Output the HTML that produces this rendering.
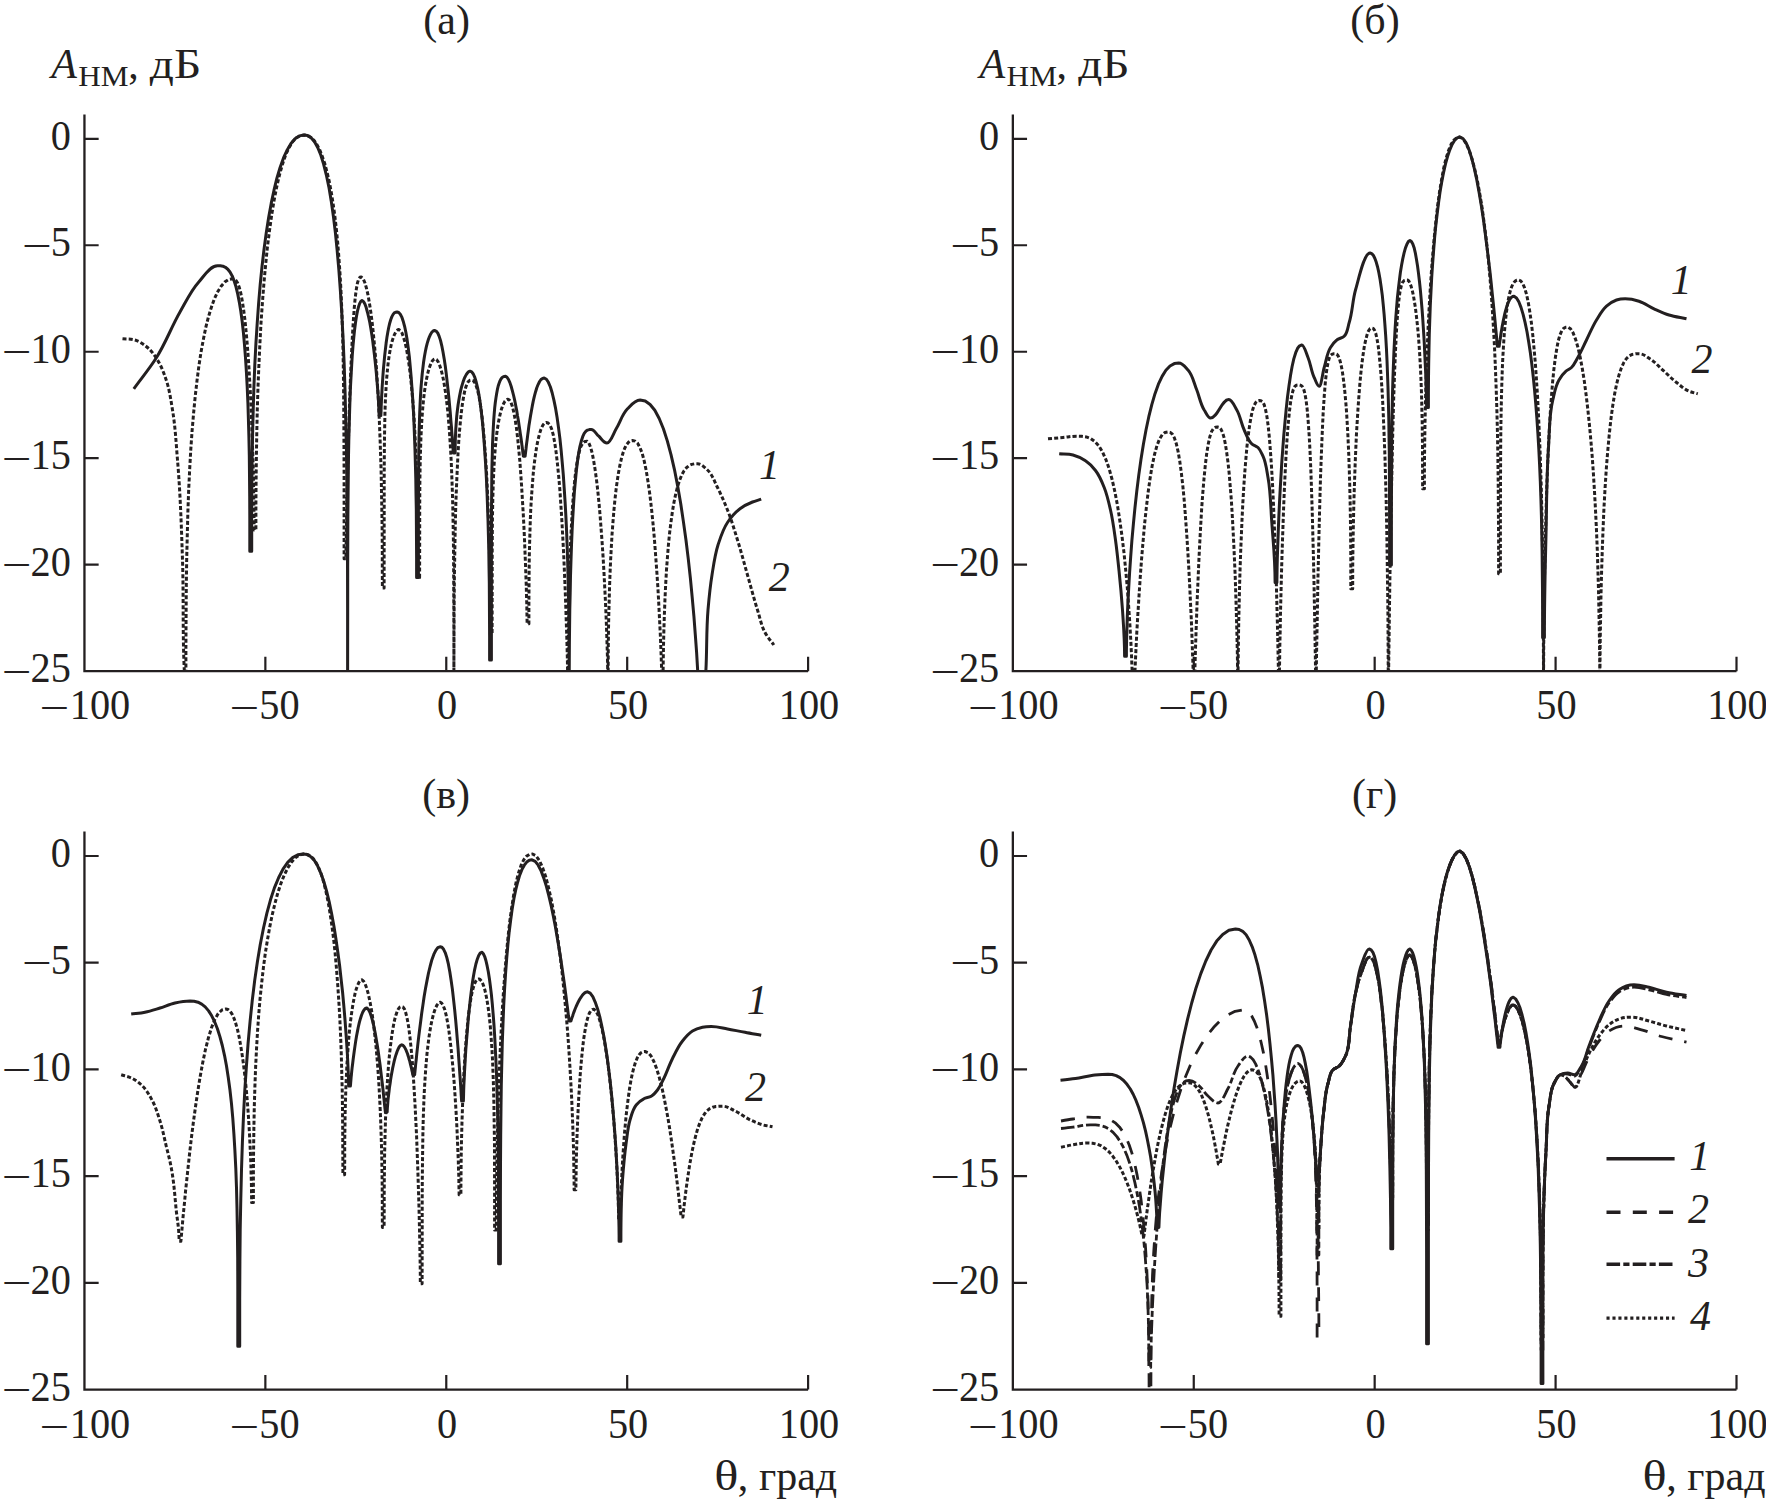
<!DOCTYPE html>
<html><head><meta charset="utf-8"><title>figure</title>
<style>html,body{margin:0;padding:0;background:#fff}svg{display:block}text{font-family:"Liberation Serif", "DejaVu Serif", serif;font-size:42px;fill:#231f20}</style>
</head><body>
<svg width="1766" height="1502" viewBox="0 0 1766 1502">
<rect width="1766" height="1502" fill="#fff"/>
<path d="M84.45 114.4V671.15H808.1" fill="none" stroke="#231f20" stroke-width="2.3" stroke-linejoin="miter"/>
<path d="M84.45 138.80h14.2M84.45 245.27h14.2M84.45 351.74h14.2M84.45 458.21h14.2M84.45 564.68h14.2M265.36 671.15v-14.5M446.27 671.15v-14.5M627.19 671.15v-14.5M808.10 671.15v-14.5" fill="none" stroke="#231f20" stroke-width="2.2"/>
<text transform="translate(70.85 150.00) scale(0.96 1)" text-anchor="end">0</text>
<text transform="translate(70.85 256.47) scale(0.96 1)" text-anchor="end">5</text>
<text transform="translate(21.95 259.67) scale(1.258 1)">−</text>
<text transform="translate(70.85 362.94) scale(0.96 1)" text-anchor="end">10</text>
<text transform="translate(1.79 366.14) scale(1.258 1)">−</text>
<text transform="translate(70.85 469.41) scale(0.96 1)" text-anchor="end">15</text>
<text transform="translate(1.79 472.61) scale(1.258 1)">−</text>
<text transform="translate(70.85 575.88) scale(0.96 1)" text-anchor="end">20</text>
<text transform="translate(1.79 579.08) scale(1.258 1)">−</text>
<text transform="translate(70.85 682.35) scale(0.96 1)" text-anchor="end">25</text>
<text transform="translate(1.79 685.55) scale(1.258 1)">−</text>
<text transform="translate(39.61 722.25) scale(1.258 1)">−</text>
<text transform="translate(69.80 719.05) scale(0.96 1)">100</text>
<text transform="translate(229.62 722.25) scale(1.258 1)">−</text>
<text transform="translate(259.36 719.05) scale(0.96 1)">50</text>
<text transform="translate(447.17 719.05) scale(0.96 1)" text-anchor="middle">0</text>
<text transform="translate(628.09 719.05) scale(0.96 1)" text-anchor="middle">50</text>
<text transform="translate(809.00 719.05) scale(0.96 1)" text-anchor="middle">100</text>
<path d="M1012.85 114.4V671.15H1736.5" fill="none" stroke="#231f20" stroke-width="2.3" stroke-linejoin="miter"/>
<path d="M1012.85 138.80h14.2M1012.85 245.27h14.2M1012.85 351.74h14.2M1012.85 458.21h14.2M1012.85 564.68h14.2M1193.76 671.15v-14.5M1374.67 671.15v-14.5M1555.59 671.15v-14.5M1736.50 671.15v-14.5" fill="none" stroke="#231f20" stroke-width="2.2"/>
<text transform="translate(999.25 150.00) scale(0.96 1)" text-anchor="end">0</text>
<text transform="translate(999.25 256.47) scale(0.96 1)" text-anchor="end">5</text>
<text transform="translate(950.35 259.67) scale(1.258 1)">−</text>
<text transform="translate(999.25 362.94) scale(0.96 1)" text-anchor="end">10</text>
<text transform="translate(930.19 366.14) scale(1.258 1)">−</text>
<text transform="translate(999.25 469.41) scale(0.96 1)" text-anchor="end">15</text>
<text transform="translate(930.19 472.61) scale(1.258 1)">−</text>
<text transform="translate(999.25 575.88) scale(0.96 1)" text-anchor="end">20</text>
<text transform="translate(930.19 579.08) scale(1.258 1)">−</text>
<text transform="translate(999.25 682.35) scale(0.96 1)" text-anchor="end">25</text>
<text transform="translate(930.19 685.55) scale(1.258 1)">−</text>
<text transform="translate(968.01 722.25) scale(1.258 1)">−</text>
<text transform="translate(998.20 719.05) scale(0.96 1)">100</text>
<text transform="translate(1158.02 722.25) scale(1.258 1)">−</text>
<text transform="translate(1187.76 719.05) scale(0.96 1)">50</text>
<text transform="translate(1375.58 719.05) scale(0.96 1)" text-anchor="middle">0</text>
<text transform="translate(1556.49 719.05) scale(0.96 1)" text-anchor="middle">50</text>
<text transform="translate(1737.40 719.05) scale(0.96 1)" text-anchor="middle">100</text>
<path d="M84.45 831.6V1389.6H808.1" fill="none" stroke="#231f20" stroke-width="2.3" stroke-linejoin="miter"/>
<path d="M84.45 856.00h14.2M84.45 962.72h14.2M84.45 1069.44h14.2M84.45 1176.16h14.2M84.45 1282.88h14.2M265.36 1389.6v-14.5M446.27 1389.6v-14.5M627.19 1389.6v-14.5M808.10 1389.6v-14.5" fill="none" stroke="#231f20" stroke-width="2.2"/>
<text transform="translate(70.85 867.20) scale(0.96 1)" text-anchor="end">0</text>
<text transform="translate(70.85 973.92) scale(0.96 1)" text-anchor="end">5</text>
<text transform="translate(21.95 977.12) scale(1.258 1)">−</text>
<text transform="translate(70.85 1080.64) scale(0.96 1)" text-anchor="end">10</text>
<text transform="translate(1.79 1083.84) scale(1.258 1)">−</text>
<text transform="translate(70.85 1187.36) scale(0.96 1)" text-anchor="end">15</text>
<text transform="translate(1.79 1190.56) scale(1.258 1)">−</text>
<text transform="translate(70.85 1294.08) scale(0.96 1)" text-anchor="end">20</text>
<text transform="translate(1.79 1297.28) scale(1.258 1)">−</text>
<text transform="translate(70.85 1400.80) scale(0.96 1)" text-anchor="end">25</text>
<text transform="translate(1.79 1404.00) scale(1.258 1)">−</text>
<text transform="translate(39.61 1440.70) scale(1.258 1)">−</text>
<text transform="translate(69.80 1437.50) scale(0.96 1)">100</text>
<text transform="translate(229.62 1440.70) scale(1.258 1)">−</text>
<text transform="translate(259.36 1437.50) scale(0.96 1)">50</text>
<text transform="translate(447.17 1437.50) scale(0.96 1)" text-anchor="middle">0</text>
<text transform="translate(628.09 1437.50) scale(0.96 1)" text-anchor="middle">50</text>
<text transform="translate(809.00 1437.50) scale(0.96 1)" text-anchor="middle">100</text>
<path d="M1012.85 831.6V1389.6H1736.5" fill="none" stroke="#231f20" stroke-width="2.3" stroke-linejoin="miter"/>
<path d="M1012.85 856.00h14.2M1012.85 962.72h14.2M1012.85 1069.44h14.2M1012.85 1176.16h14.2M1012.85 1282.88h14.2M1193.76 1389.6v-14.5M1374.67 1389.6v-14.5M1555.59 1389.6v-14.5M1736.50 1389.6v-14.5" fill="none" stroke="#231f20" stroke-width="2.2"/>
<text transform="translate(999.25 867.20) scale(0.96 1)" text-anchor="end">0</text>
<text transform="translate(999.25 973.92) scale(0.96 1)" text-anchor="end">5</text>
<text transform="translate(950.35 977.12) scale(1.258 1)">−</text>
<text transform="translate(999.25 1080.64) scale(0.96 1)" text-anchor="end">10</text>
<text transform="translate(930.19 1083.84) scale(1.258 1)">−</text>
<text transform="translate(999.25 1187.36) scale(0.96 1)" text-anchor="end">15</text>
<text transform="translate(930.19 1190.56) scale(1.258 1)">−</text>
<text transform="translate(999.25 1294.08) scale(0.96 1)" text-anchor="end">20</text>
<text transform="translate(930.19 1297.28) scale(1.258 1)">−</text>
<text transform="translate(999.25 1400.80) scale(0.96 1)" text-anchor="end">25</text>
<text transform="translate(930.19 1404.00) scale(1.258 1)">−</text>
<text transform="translate(968.01 1440.70) scale(1.258 1)">−</text>
<text transform="translate(998.20 1437.50) scale(0.96 1)">100</text>
<text transform="translate(1158.02 1440.70) scale(1.258 1)">−</text>
<text transform="translate(1187.76 1437.50) scale(0.96 1)">50</text>
<text transform="translate(1375.58 1437.50) scale(0.96 1)" text-anchor="middle">0</text>
<text transform="translate(1556.49 1437.50) scale(0.96 1)" text-anchor="middle">50</text>
<text transform="translate(1737.40 1437.50) scale(0.96 1)" text-anchor="middle">100</text>
<text transform="translate(446.60 34.10) scale(1.0 1)" text-anchor="middle">(а)</text>
<text transform="translate(1375.00 34.10) scale(1.0 1)" text-anchor="middle">(б)</text>
<text transform="translate(446.20 807.90) scale(1.0 1)" text-anchor="middle">(в)</text>
<text transform="translate(1374.60 807.90) scale(1.0 1)" text-anchor="middle">(г)</text>
<text transform="translate(51.2 77.5)" font-style="italic">A</text>
<text transform="translate(78.2 86.2) scale(1.06 1)" style="font-size:29.5px">НМ</text>
<text transform="translate(128.2 77.5)">,</text>
<text transform="translate(149.8 77.5) scale(1.13 1)">дБ</text>
<text transform="translate(979.6 77.5)" font-style="italic">A</text>
<text transform="translate(1006.6 86.2) scale(1.06 1)" style="font-size:29.5px">НМ</text>
<text transform="translate(1056.6 77.5)">,</text>
<text transform="translate(1078.2 77.5) scale(1.13 1)">дБ</text>
<text transform="translate(714.20 1489.8) scale(1.2 1)">θ</text>
<text transform="translate(737.80 1489.80) scale(1.0 1)">,</text>
<text transform="translate(837.20 1489.80) scale(1.0 1)" text-anchor="end">град</text>
<text transform="translate(1642.60 1489.8) scale(1.2 1)">θ</text>
<text transform="translate(1666.20 1489.80) scale(1.0 1)">,</text>
<text transform="translate(1765.60 1489.80) scale(1.0 1)" text-anchor="end">град</text>
<text transform="translate(759.00 478.75)" font-style="italic">1</text>
<text transform="translate(768.75 591.00)" font-style="italic">2</text>
<text transform="translate(1670.75 293.75)" font-style="italic">1</text>
<text transform="translate(1691.50 372.50)" font-style="italic">2</text>
<text transform="translate(746.75 1013.50)" font-style="italic">1</text>
<text transform="translate(745.00 1101.00)" font-style="italic">2</text>
<clipPath id="clip0"><rect x="86" y="100" width="744" height="570.1"/></clipPath>
<g clip-path="url(#clip0)" fill="none" stroke="#231f20" stroke-linejoin="round">
<path d="M122.5 338.8C126.7 339.2 131.1 338.8 135.0 340.0C139.5 341.4 143.9 344.4 147.5 347.5C151.5 350.9 154.7 355.5 157.5 360.0C161.3 366.1 163.9 373.1 166.2 380.0C169.5 389.6 170.8 399.9 172.5 410.0C175.3 426.5 176.1 443.3 177.5 460.0C180.3 493.2 181.4 526.6 182.5 560.0C183.7 596.7 182.5 633.6 184.3 670.3C184.8 679.6 185.9 687.1 185.9 698.3L185.9 647.6L186.1 614.1L186.3 585.0L186.7 558.6L187.3 534.1L187.9 511.1L188.7 489.4L189.7 468.9L190.8 449.3L192.1 430.7L193.6 413.1L195.2 396.5L197.0 380.7L198.9 365.9L201.0 352.1L203.4 339.2L205.8 327.4L208.5 316.7L211.4 307.2L214.4 298.8L217.7 291.8L221.1 286.2L224.7 282.1L228.5 279.6L232.5 278.8L234.4 279.1L236.1 280.6L237.8 283.4L239.4 287.8L240.9 293.7L242.3 301.1L243.6 309.7L244.9 319.6L246.0 330.6L247.1 342.6L248.1 355.3L249.0 368.7L249.8 382.7L250.6 397.0L251.2 411.5L251.8 426.1L252.3 440.6L252.8 454.8L253.2 468.7L253.5 481.9L253.7 494.4L253.9 506.0L254.0 516.2L254.1 524.7L254.1 530.0L255.9 530.0L255.9 503.9L256.1 479.4L256.4 455.5L256.8 432.2L257.3 409.3L258.0 386.9L258.9 365.0L259.9 343.6L261.0 322.9L262.4 302.8L263.9 283.5L265.6 264.9L267.4 247.2L269.5 230.5L271.7 214.8L274.1 200.2L276.7 186.9L279.5 174.8L282.5 164.2L285.6 155.1L289.0 147.6L292.6 141.8L296.4 137.8L300.3 135.6L304.5 135.0L307.9 135.6L311.1 137.5L314.2 140.6L317.1 144.9L319.9 150.3L322.4 156.7L324.9 164.1L327.1 172.4L329.3 181.7L331.2 191.9L333.0 202.9L334.7 214.9L336.2 227.7L337.6 241.5L338.8 256.4L339.9 272.2L340.9 289.3L341.7 307.6L342.4 327.5L343.0 349.1L343.4 373.0L343.7 400.0L343.9 431.7L344.1 471.9L344.1 558.8L345.9 558.8L345.9 557.6L346.0 554.3L346.0 548.8L346.2 541.2L346.3 531.6L346.6 520.0L346.8 506.8L347.2 492.0L347.5 475.9L347.9 458.7L348.4 440.7L349.0 422.3L349.5 403.6L350.2 385.2L350.9 367.2L351.7 350.2L352.5 334.3L353.4 319.9L354.3 307.4L355.3 296.9L356.4 288.7L357.5 282.8L358.7 279.1L359.9 277.3L361.2 277.0L363.1 278.6L364.8 282.5L366.4 288.0L368.0 294.9L369.4 303.0L370.8 312.1L372.1 322.1L373.3 332.9L374.4 344.4L375.5 356.5L376.5 369.2L377.3 382.4L378.2 396.2L378.9 410.3L379.5 424.8L380.1 439.7L380.6 454.9L381.1 470.4L381.4 486.2L381.7 502.3L382.0 518.6L382.2 535.2L382.3 552.2L382.3 569.5L382.4 588.0L384.1 588.0L384.2 502.0L384.2 476.7L384.3 458.6L384.4 444.0L384.6 431.6L384.8 420.8L385.0 411.1L385.3 402.3L385.7 394.3L386.1 387.0L386.5 380.2L387.1 373.9L387.6 368.0L388.2 362.6L388.9 357.6L389.6 353.0L390.4 348.7L391.2 344.8L392.1 341.3L393.1 338.1L394.1 335.4L395.2 333.1L396.3 331.3L397.5 330.0L398.8 329.5L400.4 330.5L402.0 333.0L403.4 336.8L404.8 341.7L406.2 347.5L407.4 354.2L408.6 361.6L409.7 369.7L410.7 378.4L411.6 387.7L412.5 397.5L413.3 407.8L414.1 418.5L414.7 429.7L415.3 441.2L415.8 453.0L416.3 465.2L416.7 477.8L417.0 490.6L417.3 503.8L417.5 517.3L417.7 531.2L417.8 545.5L417.8 560.6L417.9 577.5L419.6 577.5L419.7 529.2L419.7 508.6L419.8 492.8L419.9 479.5L420.1 467.7L420.3 457.2L420.6 447.5L420.9 438.6L421.3 430.3L421.7 422.6L422.2 415.3L422.7 408.6L423.3 402.2L423.9 396.3L424.6 390.7L425.4 385.5L426.2 380.7L427.1 376.3L428.0 372.3L429.0 368.7L430.1 365.6L431.2 362.9L432.4 360.8L433.7 359.4L435.0 358.8L436.6 359.6L438.2 361.8L439.6 365.1L441.0 369.4L442.3 374.5L443.6 380.5L444.7 387.2L445.8 394.6L446.8 402.8L447.8 411.5L448.6 421.0L449.4 431.1L450.1 441.9L450.8 453.4L451.4 465.6L451.9 478.6L452.4 492.5L452.8 507.3L453.1 523.2L453.4 540.5L453.6 559.4L453.7 580.6L453.8 605.2L453.9 635.9L453.9 698.3L453.9 663.6L454.0 638.5L454.1 616.2L454.2 595.7L454.4 576.3L454.7 558.0L455.0 540.7L455.3 524.2L455.7 508.5L456.2 493.6L456.8 479.5L457.4 466.2L458.0 453.8L458.7 442.1L459.5 431.4L460.4 421.6L461.3 412.7L462.3 404.8L463.4 397.9L464.5 392.1L465.7 387.5L467.0 383.9L468.3 381.6L469.8 380.3L471.2 380.0L472.9 380.5L474.5 382.1L475.9 385.1L477.3 389.4L478.7 394.9L479.9 401.6L481.1 409.3L482.2 418.1L483.2 427.8L484.1 438.3L485.0 449.5L485.8 461.4L486.6 473.8L487.2 486.7L487.8 500.0L488.3 513.6L488.8 527.5L489.2 541.5L489.5 555.7L489.8 569.8L490.0 583.8L490.2 597.6L490.3 611.0L490.3 623.8L490.4 635.0L492.1 635.0L492.2 575.8L492.2 553.1L492.3 536.1L492.4 521.9L492.6 509.5L492.8 498.5L493.1 488.5L493.4 479.4L493.8 470.9L494.2 463.1L494.7 455.7L495.2 448.9L495.8 442.5L496.4 436.5L497.1 431.0L497.9 425.8L498.7 421.0L499.6 416.6L500.5 412.7L501.5 409.1L502.6 406.0L503.7 403.4L504.9 401.3L506.2 399.9L507.5 399.2L509.2 399.9L510.8 402.1L512.3 406.1L513.7 411.8L515.1 419.1L516.4 427.8L517.6 437.7L518.7 448.8L519.8 460.6L520.7 473.1L521.6 486.2L522.4 499.5L523.2 512.9L523.9 526.2L524.5 539.4L525.0 552.1L525.5 564.3L525.9 575.8L526.3 586.5L526.5 596.2L526.8 604.8L526.9 612.0L527.0 617.8L527.1 621.9L527.1 623.8L528.9 623.8L528.9 603.2L529.0 588.3L529.1 575.1L529.2 562.9L529.4 551.3L529.7 540.4L530.0 530.0L530.3 520.0L530.7 510.5L531.2 501.3L531.8 492.6L532.4 484.3L533.0 476.3L533.7 468.8L534.5 461.8L535.4 455.2L536.3 449.1L537.3 443.4L538.4 438.4L539.5 433.9L540.7 430.0L542.0 426.9L543.3 424.5L544.8 423.0L546.2 422.5L548.1 423.0L549.9 424.9L551.6 428.8L553.2 434.6L554.7 442.5L556.1 452.1L557.4 463.5L558.7 476.3L559.9 490.3L560.9 505.4L561.9 521.3L562.8 537.7L563.7 554.4L564.4 571.1L565.1 587.7L565.7 603.9L566.2 619.5L566.7 634.3L567.1 648.0L567.4 660.5L567.6 671.6L567.8 681.1L567.9 688.6L568.0 693.9L568.0 696.3L568.0 680.3L568.1 664.3L568.2 648.4L568.3 632.6L568.6 617.1L568.8 601.8L569.2 586.8L569.5 572.1L570.0 558.0L570.5 544.3L571.1 531.2L571.8 518.8L572.5 507.1L573.3 496.1L574.2 486.0L575.1 476.8L576.1 468.6L577.2 461.5L578.4 455.4L579.6 450.4L580.9 446.6L582.3 443.9L583.8 442.2L585.4 441.4L587.0 441.2L588.8 442.9L590.5 447.0L592.2 453.2L593.7 461.0L595.2 470.2L596.6 480.6L597.9 492.0L599.1 504.1L600.2 516.9L601.2 530.1L602.2 543.6L603.1 557.3L603.9 571.1L604.6 584.8L605.3 598.4L605.9 611.7L606.4 624.5L606.8 636.9L607.2 648.7L607.5 659.7L607.7 669.8L607.9 678.9L608.0 686.7L608.1 692.8L608.1 696.3L608.1 677.4L608.2 660.6L608.3 644.6L608.5 629.2L608.8 614.2L609.2 599.6L609.6 585.5L610.1 571.8L610.7 558.5L611.4 545.7L612.1 533.5L613.0 521.7L613.9 510.6L614.9 500.1L616.0 490.2L617.2 481.1L618.5 472.8L619.9 465.3L621.4 458.7L623.0 453.0L624.7 448.3L626.5 444.8L628.4 442.3L630.4 440.9L632.5 440.5L635.1 441.1L637.6 443.2L639.9 447.4L642.2 453.4L644.3 461.4L646.3 471.0L648.1 482.3L649.9 494.9L651.5 508.7L653.0 523.4L654.4 538.9L655.6 555.0L656.8 571.3L657.9 587.9L658.8 604.3L659.6 620.5L660.4 636.2L661.0 651.3L661.5 665.6L662.0 678.8L662.3 690.8L662.6 701.2L662.7 710.0L662.8 716.5L662.9 719.8L662.9 698.9L663.0 680.5L663.2 662.9L663.5 645.9L663.9 629.6L664.4 613.8L665.0 598.6L665.7 583.9L666.5 569.9L667.5 556.6L668.5 544.0L669.7 532.1L671.1 521.1L672.5 511.0L674.1 501.7L675.8 493.5L677.7 486.2L679.7 480.0L681.8 474.8L684.1 470.7L686.5 467.7L689.0 465.6L691.7 464.4L694.5 463.8L697.5 463.8C701.5 463.8 704.6 467.4 707.5 470.0C712.2 474.3 714.4 481.5 717.5 487.5C721.2 494.8 724.5 502.4 727.5 510.0C731.4 519.8 734.4 529.9 737.5 540.0C741.1 551.6 744.2 563.3 747.5 575.0C750.8 586.7 753.9 598.4 757.5 610.0C759.9 617.5 761.3 625.7 765.0 632.5C767.4 636.9 770.8 640.8 773.8 645.0" stroke-width="3.0" stroke-dasharray="4 2.2"/>
<path d="M133.8 388.8C141.2 378.5 149.5 368.7 156.2 358.0C165.5 343.5 171.4 326.9 180.0 312.0C185.9 301.8 191.0 290.6 198.8 282.0C204.2 275.9 210.0 265.8 217.5 265.8L220.3 265.8L222.9 266.2L225.4 267.3L227.8 269.2L230.0 272.0L232.2 275.9L234.1 280.8L236.0 286.8L237.7 293.9L239.3 302.1L240.8 311.3L242.2 321.5L243.4 332.7L244.5 344.9L245.5 358.0L246.4 372.0L247.2 386.9L247.9 402.7L248.4 419.3L248.9 436.9L249.3 455.5L249.5 475.3L249.7 496.6L249.8 520.1L249.8 551.2L251.7 551.2L251.7 514.9L251.9 486.0L252.1 459.4L252.6 434.2L253.2 410.3L253.9 387.3L254.8 365.1L255.9 343.8L257.2 323.3L258.6 303.6L260.2 284.6L262.0 266.6L264.0 249.4L266.2 233.1L268.6 217.8L271.2 203.4L274.0 190.2L276.9 178.2L280.1 167.4L283.5 157.9L287.2 149.9L291.0 143.5L295.0 138.8L299.3 135.9L303.8 135.0L307.5 135.6L311.1 137.8L314.5 141.8L317.7 147.5L320.8 155.0L323.6 164.1L326.3 174.8L328.9 187.1L331.2 200.9L333.4 216.2L335.4 232.8L337.2 250.9L338.9 270.4L340.4 291.2L341.8 313.4L343.0 337.1L344.1 362.4L345.0 389.2L345.7 417.9L346.4 448.7L346.9 481.9L347.2 518.5L347.5 559.6L347.6 608.8L347.6 692.8L347.7 605.1L347.7 567.8L347.8 539.0L347.9 514.8L348.1 493.5L348.3 474.3L348.5 456.9L348.8 440.8L349.2 425.8L349.6 411.9L350.0 398.9L350.5 386.7L351.1 375.4L351.7 364.8L352.3 354.9L353.0 345.8L353.8 337.4L354.6 329.7L355.5 322.8L356.4 316.7L357.4 311.4L358.5 307.0L359.6 303.6L360.8 301.4L362.0 300.5L363.5 301.6L364.9 304.1L366.2 307.6L367.4 312.0L368.6 317.0L369.8 322.4L370.8 328.3L371.8 334.5L372.7 340.8L373.5 347.3L374.3 353.8L375.0 360.2L375.7 366.6L376.3 372.8L376.8 378.8L377.3 384.5L377.7 389.9L378.1 394.9L378.4 399.6L378.6 403.7L378.8 407.4L378.9 410.5L379.0 413.0L379.1 414.7L379.1 415.5L380.9 415.5L380.9 414.6L381.0 412.6L381.1 409.7L381.2 406.2L381.4 402.0L381.6 397.3L381.9 392.1L382.2 386.5L382.6 380.6L383.0 374.5L383.5 368.2L384.1 361.8L384.7 355.5L385.4 349.3L386.1 343.3L386.9 337.6L387.8 332.3L388.7 327.5L389.7 323.2L390.8 319.5L391.9 316.6L393.1 314.4L394.3 312.9L395.6 312.2L397.0 312.0L398.7 312.5L400.3 314.2L401.8 317.1L403.2 321.2L404.6 326.3L405.9 332.5L407.1 339.6L408.2 347.6L409.3 356.5L410.2 366.1L411.1 376.4L411.9 387.3L412.7 398.9L413.4 411.0L414.0 423.7L414.5 436.8L415.0 450.4L415.4 464.4L415.8 478.9L416.0 493.8L416.3 509.1L416.4 524.8L416.5 541.1L416.6 558.2L416.6 577.5L418.4 577.5L418.4 514.7L418.5 490.7L418.6 472.6L418.7 457.6L418.9 444.6L419.1 432.9L419.4 422.4L419.7 412.7L420.1 403.8L420.5 395.5L421.0 387.8L421.6 380.7L422.2 374.0L422.9 367.8L423.6 362.0L424.4 356.7L425.3 351.8L426.2 347.4L427.2 343.4L428.3 339.8L429.4 336.8L430.6 334.2L431.8 332.3L433.1 331.0L434.5 330.5L436.1 331.1L437.7 332.9L439.1 336.1L440.5 340.4L441.8 345.8L443.0 352.0L444.2 358.9L445.3 366.3L446.3 374.1L447.2 382.1L448.1 390.1L448.9 398.0L449.6 405.7L450.3 413.0L450.8 419.9L451.4 426.3L451.8 432.1L452.2 437.2L452.5 441.6L452.8 445.3L453.0 448.3L453.2 450.5L453.3 452.0L453.3 452.8L453.4 453.0L455.1 453.0L455.2 449.3L455.2 445.3L455.3 441.3L455.4 437.2L455.6 433.1L455.8 428.9L456.1 424.8L456.4 420.7L456.7 416.7L457.1 412.7L457.6 408.7L458.1 404.8L458.7 401.1L459.3 397.4L460.0 393.8L460.7 390.4L461.5 387.2L462.4 384.1L463.3 381.3L464.2 378.7L465.3 376.4L466.4 374.4L467.5 372.8L468.7 371.7L470.0 371.2L471.7 371.9L473.3 374.0L474.8 377.4L476.2 382.0L477.6 387.8L478.9 394.6L480.1 402.3L481.2 411.0L482.3 420.5L483.2 430.7L484.1 441.6L484.9 453.3L485.7 465.5L486.4 478.3L487.0 491.7L487.5 505.6L488.0 520.0L488.4 535.0L488.8 550.4L489.0 566.3L489.3 582.9L489.4 600.0L489.5 618.0L489.6 637.1L489.6 660.0L491.4 660.0L491.4 558.5L491.5 529.1L491.5 508.3L491.7 491.6L491.8 477.4L492.0 465.2L492.3 454.3L492.5 444.6L492.9 435.8L493.3 427.8L493.7 420.5L494.2 413.9L494.7 407.9L495.3 402.5L496.0 397.6L496.7 393.2L497.4 389.4L498.2 386.0L499.1 383.2L500.0 380.9L501.0 379.0L502.0 377.7L503.1 376.8L504.3 376.4L505.5 376.2L507.0 377.2L508.5 379.5L509.9 382.6L511.2 386.5L512.4 390.8L513.6 395.5L514.7 400.4L515.7 405.5L516.7 410.6L517.5 415.7L518.4 420.6L519.1 425.4L519.8 429.9L520.4 434.2L521.0 438.1L521.5 441.7L521.9 444.9L522.3 447.7L522.6 450.1L522.8 452.1L523.0 453.7L523.2 454.9L523.3 455.7L523.3 456.1L523.4 456.2L525.1 456.2L525.2 456.1L525.2 455.6L525.3 454.6L525.5 453.2L525.7 451.3L526.0 449.0L526.3 446.2L526.7 442.9L527.2 439.2L527.7 435.1L528.3 430.7L528.9 426.0L529.7 421.1L530.5 416.1L531.4 411.0L532.3 405.9L533.3 400.9L534.4 396.1L535.6 391.7L536.8 387.7L538.2 384.3L539.6 381.5L541.0 379.5L542.6 378.4L544.2 378.0L546.4 379.2L548.4 382.3L550.4 387.0L552.2 393.0L553.9 400.1L555.6 408.4L557.1 417.5L558.5 427.6L559.9 438.4L561.1 449.9L562.2 462.1L563.3 474.9L564.2 488.3L565.1 502.2L565.9 516.7L566.6 531.6L567.2 547.1L567.7 563.0L568.1 579.4L568.5 596.3L568.8 613.8L569.0 631.9L569.1 650.9L569.2 671.2L569.2 695.3L569.2 677.8L569.3 660.3L569.4 643.0L569.6 625.8L569.8 608.9L570.2 592.3L570.5 576.0L571.0 560.3L571.5 545.2L572.1 530.6L572.8 516.8L573.6 503.8L574.4 491.7L575.4 480.5L576.4 470.4L577.5 461.3L578.6 453.4L579.9 446.6L581.3 441.0L582.7 436.7L584.2 433.4L585.8 431.3L587.6 430.1L589.4 429.6L591.2 429.5C594.2 429.5 596.2 434.1 598.8 436.2C601.4 438.6 603.7 443.0 607.0 443.0C610.7 443.0 613.3 433.6 616.2 428.8C620.2 422.2 622.3 414.0 627.5 408.8C631.0 405.2 635.0 400.0 640.0 400.0L645.2 401.0L650.1 404.5L654.8 410.3L659.2 418.5L663.4 428.7L667.3 440.9L671.0 454.6L674.5 469.8L677.7 486.2L680.7 503.5L683.4 521.6L686.0 540.2L688.3 559.1L690.4 578.3L692.2 597.3L693.9 616.2L695.3 634.6L696.6 652.4L697.6 669.4L698.5 685.3L699.2 700.1L699.7 713.3L700.0 724.7L700.2 733.7L700.2 738.8C700.2 711.4 704.6 693.2 705.9 670.3C707.0 650.2 706.3 630.0 708.0 610.0C709.0 598.3 710.1 586.6 712.0 575.0C713.6 564.9 714.9 554.7 718.0 545.0C720.5 537.3 723.0 529.1 727.5 522.5C730.9 517.4 735.1 512.4 740.0 508.8C743.8 505.9 748.1 503.7 752.5 502.0C755.3 500.9 758.3 500.2 761.2 499.2" stroke-width="3.0"/>
</g>
<clipPath id="clip1"><rect x="1014.5" y="100" width="751.5" height="570.1"/></clipPath>
<g clip-path="url(#clip1)" fill="none" stroke="#231f20" stroke-linejoin="round">
<path d="M1048.0 438.8C1053.0 438.3 1058.0 437.9 1063.0 437.5C1067.6 437.1 1071.2 436.2 1076.8 436.2L1081.6 436.3L1086.2 436.9L1090.6 438.5L1094.7 441.4L1098.7 445.7L1102.4 451.7L1105.8 459.3L1109.1 468.6L1112.1 479.5L1114.9 491.8L1117.5 505.5L1119.8 520.4L1122.0 536.2L1124.0 552.9L1125.7 570.1L1127.3 587.7L1128.6 605.5L1129.8 623.2L1130.8 640.5L1131.6 657.3L1132.2 673.2L1132.7 687.9L1133.0 701.1L1133.2 711.9L1133.2 718.8L1133.3 717.1L1133.4 712.8L1133.6 706.3L1133.9 697.7L1134.3 687.2L1134.8 675.0L1135.4 661.4L1136.1 646.4L1136.9 630.4L1137.9 613.5L1139.0 596.0L1140.2 578.0L1141.5 560.0L1143.0 542.2L1144.5 524.8L1146.3 508.1L1148.1 492.5L1150.1 478.2L1152.2 465.5L1154.5 454.6L1156.9 445.8L1159.5 439.1L1162.2 434.8L1165.0 432.5L1168.0 432.0L1170.2 432.4L1172.4 434.2L1174.4 437.9L1176.3 443.7L1178.1 451.6L1179.8 461.5L1181.4 473.3L1182.9 486.6L1184.3 501.3L1185.5 517.2L1186.7 533.8L1187.8 551.0L1188.8 568.4L1189.7 585.7L1190.5 602.8L1191.3 619.3L1191.9 635.0L1192.4 649.7L1192.9 663.1L1193.2 675.1L1193.5 685.4L1193.8 693.9L1193.9 700.4L1194.0 704.6L1194.0 706.3L1194.0 705.1L1194.1 701.6L1194.2 695.8L1194.4 687.8L1194.7 677.6L1195.0 665.5L1195.4 651.6L1195.9 636.2L1196.5 619.5L1197.1 601.7L1197.9 583.3L1198.7 564.5L1199.6 545.7L1200.6 527.3L1201.6 509.6L1202.8 492.9L1204.1 477.7L1205.4 464.2L1206.8 452.7L1208.4 443.3L1210.0 436.2L1211.7 431.3L1213.6 428.4L1215.5 427.2L1217.5 427.0L1219.3 427.4L1220.9 429.1L1222.5 432.4L1224.0 437.4L1225.4 444.2L1226.7 452.6L1228.0 462.4L1229.2 473.7L1230.2 486.1L1231.3 499.6L1232.2 514.0L1233.0 529.0L1233.8 544.5L1234.5 560.3L1235.2 576.2L1235.7 592.0L1236.2 607.7L1236.6 622.8L1237.0 637.4L1237.3 651.2L1237.5 663.9L1237.7 675.4L1237.8 685.3L1237.9 693.1L1237.9 697.6L1237.9 689.6L1238.0 678.2L1238.1 664.9L1238.3 650.4L1238.5 634.9L1238.8 618.8L1239.2 602.1L1239.6 585.2L1240.1 568.1L1240.7 551.1L1241.4 534.3L1242.1 517.8L1242.9 501.9L1243.8 486.6L1244.8 472.1L1245.9 458.6L1247.0 446.2L1248.3 435.1L1249.6 425.4L1251.0 417.2L1252.4 410.6L1254.0 405.7L1255.7 402.5L1257.4 400.9L1259.2 400.5L1260.9 400.7L1262.6 401.8L1264.1 404.5L1265.5 409.4L1266.9 416.5L1268.2 426.1L1269.4 438.0L1270.5 452.1L1271.6 468.2L1272.6 485.9L1273.5 504.9L1274.3 524.8L1275.1 545.2L1275.8 565.7L1276.4 585.9L1276.9 605.3L1277.4 623.7L1277.8 640.8L1278.1 656.1L1278.4 669.5L1278.6 680.7L1278.8 689.6L1278.9 696.1L1279.0 700.0L1279.0 701.3L1279.0 699.2L1279.1 693.8L1279.2 685.7L1279.3 675.0L1279.6 662.0L1279.8 647.1L1280.2 630.4L1280.5 612.2L1281.0 592.9L1281.5 572.8L1282.1 552.1L1282.8 531.4L1283.5 510.8L1284.3 490.9L1285.2 471.9L1286.1 454.2L1287.1 438.1L1288.2 423.9L1289.4 411.8L1290.6 402.0L1291.9 394.6L1293.3 389.5L1294.8 386.5L1296.4 385.2L1298.0 385.0L1299.5 385.0L1301.0 385.4L1302.4 386.6L1303.7 389.2L1304.9 393.6L1306.1 400.4L1307.2 409.6L1308.2 421.5L1309.2 435.9L1310.1 452.7L1310.9 471.6L1311.6 492.2L1312.3 514.1L1312.9 536.8L1313.5 559.7L1314.0 582.4L1314.4 604.2L1314.8 624.8L1315.1 643.5L1315.4 660.1L1315.6 674.1L1315.7 685.3L1315.8 693.5L1315.9 698.4L1315.9 700.1L1315.9 698.9L1316.0 695.0L1316.1 687.8L1316.2 677.3L1316.4 663.4L1316.7 646.4L1317.1 626.6L1317.5 604.4L1317.9 580.3L1318.5 554.9L1319.1 528.8L1319.8 502.8L1320.5 477.5L1321.4 453.5L1322.3 431.5L1323.2 411.9L1324.3 395.2L1325.4 381.5L1326.6 370.9L1327.9 363.2L1329.2 358.2L1330.7 355.4L1332.2 354.1L1333.8 353.8L1335.5 353.8L1336.8 354.2L1338.1 355.8L1339.3 358.4L1340.4 362.2L1341.5 367.0L1342.5 372.6L1343.4 379.2L1344.3 386.6L1345.1 394.7L1345.9 403.5L1346.6 412.9L1347.2 422.9L1347.8 433.4L1348.3 444.4L1348.8 455.8L1349.2 467.6L1349.6 479.8L1349.9 492.3L1350.2 505.2L1350.4 518.3L1350.6 531.6L1350.7 545.3L1350.8 559.2L1350.8 573.5L1350.8 588.8L1352.7 588.8L1352.7 580.8L1352.7 570.3L1352.8 558.6L1353.0 546.0L1353.2 532.8L1353.5 519.2L1353.8 505.2L1354.2 491.1L1354.7 476.9L1355.2 462.8L1355.8 448.8L1356.4 435.1L1357.2 421.7L1358.0 408.7L1358.9 396.3L1359.8 384.6L1360.8 373.6L1361.9 363.5L1363.1 354.5L1364.3 346.6L1365.7 339.9L1367.1 334.6L1368.5 330.9L1370.1 328.7L1371.8 328.0L1373.2 328.4L1374.5 330.2L1375.8 333.6L1377.0 338.9L1378.2 345.9L1379.2 354.8L1380.2 365.3L1381.2 377.4L1382.1 391.1L1382.9 406.0L1383.6 422.2L1384.3 439.5L1385.0 457.7L1385.5 476.8L1386.1 496.7L1386.5 517.1L1386.9 537.9L1387.2 559.1L1387.5 580.5L1387.8 601.9L1388.0 623.2L1388.1 644.2L1388.2 664.7L1388.2 684.2L1388.2 701.3L1388.3 700.0L1388.3 695.2L1388.4 686.4L1388.6 673.6L1388.8 656.7L1389.1 636.1L1389.4 612.0L1389.8 585.0L1390.3 555.6L1390.8 524.7L1391.4 493.0L1392.1 461.3L1392.8 430.5L1393.6 401.4L1394.5 374.6L1395.5 350.8L1396.5 330.4L1397.6 313.7L1398.8 300.8L1400.0 291.5L1401.4 285.5L1402.8 282.0L1404.3 280.5L1405.8 280.0L1407.5 280.0L1408.8 281.0L1410.0 283.3L1411.2 286.6L1412.3 290.7L1413.4 295.5L1414.3 301.0L1415.3 307.0L1416.1 313.5L1416.9 320.5L1417.7 328.0L1418.4 335.8L1419.0 344.0L1419.6 352.6L1420.1 361.5L1420.6 370.8L1421.0 380.3L1421.4 390.2L1421.7 400.5L1421.9 411.0L1422.2 422.0L1422.3 433.4L1422.5 445.3L1422.5 457.9L1422.6 471.6L1422.6 488.8L1424.4 488.8L1424.4 475.6L1424.5 459.5L1424.7 442.1L1425.0 423.8L1425.4 405.0L1425.9 385.8L1426.5 366.5L1427.3 347.1L1428.1 327.8L1429.1 308.7L1430.2 289.9L1431.4 271.7L1432.8 254.0L1434.3 237.1L1435.9 221.1L1437.6 206.0L1439.5 192.1L1441.6 179.5L1443.7 168.2L1446.0 158.6L1448.5 150.6L1451.1 144.4L1453.8 140.1L1456.7 137.7L1459.8 137.0L1463.1 139.0L1466.3 143.8L1469.3 150.7L1472.1 159.3L1474.8 169.5L1477.4 180.9L1479.7 193.5L1482.0 207.2L1484.0 221.8L1486.0 237.4L1487.8 253.8L1489.4 271.0L1490.9 288.9L1492.2 307.5L1493.4 326.9L1494.5 346.9L1495.4 367.6L1496.2 389.0L1496.9 411.2L1497.5 434.1L1497.9 457.9L1498.2 482.8L1498.4 509.2L1498.6 537.8L1498.6 573.8L1500.4 573.8L1500.4 513.3L1500.5 484.4L1500.6 461.6L1500.7 442.1L1500.9 424.7L1501.2 409.0L1501.5 394.7L1501.9 381.5L1502.3 369.2L1502.8 357.9L1503.4 347.5L1504.0 337.8L1504.7 328.9L1505.5 320.7L1506.3 313.3L1507.2 306.6L1508.1 300.6L1509.2 295.4L1510.3 291.0L1511.5 287.3L1512.7 284.4L1514.1 282.3L1515.5 280.9L1516.9 280.2L1518.5 280.0L1520.6 280.8L1522.7 283.4L1524.6 287.9L1526.5 294.2L1528.2 302.2L1529.8 311.8L1531.4 322.9L1532.8 335.4L1534.1 349.1L1535.4 364.1L1536.5 380.2L1537.6 397.4L1538.5 415.6L1539.4 434.7L1540.2 454.7L1540.9 475.5L1541.5 497.2L1542.0 519.6L1542.4 542.8L1542.8 566.9L1543.1 591.8L1543.3 617.6L1543.4 644.8L1543.5 673.8L1543.5 708.3L1543.5 689.8L1543.6 668.7L1543.7 646.6L1543.9 624.0L1544.2 601.1L1544.5 578.1L1545.0 555.3L1545.5 532.8L1546.1 510.7L1546.7 489.3L1547.5 468.7L1548.3 448.9L1549.3 430.3L1550.3 412.9L1551.4 396.8L1552.6 382.2L1553.9 369.2L1555.3 357.9L1556.8 348.4L1558.3 340.7L1560.0 334.8L1561.8 330.7L1563.7 328.3L1565.7 327.2L1567.8 327.0L1570.5 328.7L1573.1 332.9L1575.6 339.4L1578.0 347.6L1580.2 357.4L1582.3 368.6L1584.3 381.1L1586.1 394.7L1587.8 409.2L1589.4 424.6L1590.9 440.8L1592.3 457.7L1593.5 475.2L1594.6 493.3L1595.6 511.8L1596.5 530.8L1597.3 550.2L1597.9 569.8L1598.5 589.8L1598.9 609.9L1599.3 630.3L1599.6 650.7L1599.8 671.3L1599.8 691.9L1599.9 712.6L1599.9 688.6L1600.0 664.6L1600.2 640.9L1600.6 617.4L1601.0 594.2L1601.6 571.5L1602.3 549.4L1603.1 527.9L1604.0 507.3L1605.1 487.6L1606.3 468.9L1607.7 451.4L1609.2 435.1L1610.8 420.1L1612.6 406.6L1614.5 394.6L1616.6 384.1L1618.9 375.3L1621.3 368.1L1623.8 362.5L1626.5 358.5L1629.4 355.8L1632.4 354.4L1635.6 353.8L1639.0 353.8C1644.0 353.8 1647.6 357.4 1651.5 360.0C1656.1 363.1 1659.8 367.5 1664.0 371.2C1668.2 375.0 1672.1 379.0 1676.5 382.5C1680.5 385.6 1684.4 389.3 1689.0 391.2C1691.8 392.4 1694.8 392.9 1697.8 393.8" stroke-width="3.0" stroke-dasharray="4 2.2"/>
<path d="M1059.2 453.8C1063.8 454.2 1068.6 453.8 1073.0 455.0C1077.4 456.2 1081.8 458.2 1085.5 460.8C1089.3 463.3 1092.7 466.9 1095.5 470.5C1099.3 475.4 1101.9 481.6 1104.2 487.5C1107.1 494.7 1108.8 502.4 1110.5 510.0C1112.8 519.9 1114.1 530.0 1115.5 540.0C1117.0 550.8 1118.1 561.7 1119.2 572.5C1120.5 585.0 1121.6 597.5 1122.5 610.0C1123.5 625.4 1124.6 637.8 1124.6 656.2L1126.4 656.2L1126.4 650.3L1126.6 641.0L1126.9 629.6L1127.3 616.8L1127.9 602.9L1128.7 588.1L1129.6 572.6L1130.7 556.7L1131.9 540.3L1133.4 523.8L1135.0 507.3L1136.8 491.0L1138.8 474.9L1141.0 459.2L1143.4 444.2L1146.0 430.0L1148.8 416.7L1151.8 404.6L1155.0 393.7L1158.4 384.2L1162.1 376.4L1165.9 370.3L1170.0 366.0L1174.3 363.6L1178.8 363.0C1182.5 363.0 1185.4 367.2 1188.0 370.0C1192.7 375.0 1194.0 383.3 1196.8 390.0C1199.4 396.6 1200.5 404.1 1204.2 410.0C1206.1 412.8 1208.0 418.0 1210.5 418.0C1217.8 418.0 1221.5 399.5 1228.8 399.5C1232.0 399.5 1234.5 406.2 1236.8 410.0C1240.3 416.0 1241.2 423.6 1244.2 430.0C1246.5 434.7 1248.0 440.6 1251.8 443.8C1253.6 445.3 1256.3 445.9 1258.0 447.5C1260.3 449.7 1261.6 453.2 1263.0 456.2C1266.0 462.7 1266.7 470.4 1268.0 477.5C1270.7 492.2 1270.7 507.5 1271.8 522.5C1273.2 542.5 1275.1 558.5 1275.1 582.5L1276.9 582.5L1276.9 579.8L1277.0 574.6L1277.1 567.7L1277.3 559.3L1277.6 549.7L1278.0 539.0L1278.4 527.5L1278.9 515.3L1279.5 502.5L1280.2 489.3L1281.0 475.8L1281.8 462.1L1282.8 448.5L1283.8 435.0L1285.0 421.8L1286.2 409.1L1287.5 397.0L1289.0 385.8L1290.5 375.6L1292.1 366.5L1293.8 358.9L1295.7 352.7L1297.6 348.3L1299.6 345.8L1301.8 345.0C1304.2 345.0 1306.2 353.2 1308.0 357.5C1310.7 363.9 1311.3 371.3 1314.2 377.5C1315.7 380.5 1317.2 386.2 1319.2 386.2C1321.2 386.2 1322.5 373.7 1324.2 367.5C1326.2 360.8 1326.9 353.2 1330.5 347.5C1332.2 344.8 1334.2 341.9 1336.8 340.0C1338.9 338.3 1342.3 338.1 1344.2 336.2C1347.4 333.4 1347.8 327.2 1349.2 322.5C1352.5 312.0 1352.5 300.6 1355.5 290.0C1359.1 277.3 1364.2 253.0 1370.0 253.0L1371.7 253.6L1373.3 255.3L1374.8 258.2L1376.2 262.1L1377.6 267.0L1378.9 272.9L1380.1 279.6L1381.2 287.1L1382.3 295.4L1383.2 304.4L1384.1 314.2L1384.9 324.7L1385.7 335.9L1386.4 347.8L1387.0 360.4L1387.5 373.7L1388.0 387.8L1388.4 402.8L1388.8 418.6L1389.0 435.5L1389.3 453.7L1389.4 473.6L1389.5 495.7L1389.6 522.0L1389.6 565.0L1391.4 565.0L1391.4 514.3L1391.5 486.6L1391.6 463.9L1391.7 443.9L1391.9 425.9L1392.2 409.3L1392.5 393.8L1392.9 379.2L1393.4 365.5L1393.9 352.6L1394.5 340.4L1395.1 328.8L1395.8 317.8L1396.6 307.5L1397.4 297.7L1398.4 288.6L1399.4 280.1L1400.4 272.2L1401.6 265.0L1402.8 258.6L1404.1 252.9L1405.4 248.1L1406.9 244.3L1408.4 241.6L1410.0 240.5L1411.4 241.4L1412.8 243.9L1414.1 247.7L1415.3 252.8L1416.4 258.9L1417.5 265.8L1418.5 273.4L1419.5 281.7L1420.4 290.3L1421.2 299.3L1422.0 308.6L1422.7 317.9L1423.3 327.3L1423.9 336.6L1424.4 345.7L1424.8 354.6L1425.2 363.1L1425.6 371.2L1425.9 378.9L1426.1 385.9L1426.3 392.2L1426.4 397.7L1426.5 402.3L1426.6 405.8L1426.6 407.5L1428.4 407.5L1428.4 392.7L1428.5 377.9L1428.7 363.1L1429.0 348.4L1429.3 333.9L1429.8 319.4L1430.3 305.2L1431.0 291.1L1431.7 277.3L1432.6 263.8L1433.6 250.6L1434.6 237.8L1435.8 225.5L1437.2 213.6L1438.6 202.3L1440.1 191.6L1441.8 181.6L1443.6 172.3L1445.5 163.8L1447.6 156.3L1449.8 149.8L1452.1 144.5L1454.5 140.5L1457.1 137.9L1459.8 137.0L1463.0 138.5L1466.1 142.9L1469.0 149.6L1471.7 158.2L1474.3 168.5L1476.8 180.0L1479.1 192.4L1481.3 205.4L1483.3 218.8L1485.1 232.3L1486.8 245.7L1488.4 258.7L1489.9 271.3L1491.2 283.1L1492.3 294.2L1493.4 304.4L1494.3 313.5L1495.1 321.6L1495.7 328.5L1496.3 334.3L1496.7 338.9L1497.0 342.3L1497.2 344.6L1497.3 345.9L1497.3 346.2L1499.2 346.2L1499.2 346.2L1499.2 345.8L1499.3 345.2L1499.4 344.3L1499.6 343.1L1499.8 341.6L1500.1 339.8L1500.4 337.7L1500.7 335.4L1501.1 332.8L1501.6 329.9L1502.1 326.9L1502.7 323.8L1503.3 320.6L1504.0 317.3L1504.7 314.1L1505.5 310.9L1506.4 307.8L1507.3 305.0L1508.2 302.5L1509.3 300.3L1510.4 298.5L1511.5 297.2L1512.7 296.5L1514.0 296.2L1516.5 297.9L1518.8 301.8L1521.0 307.4L1523.1 314.4L1525.1 322.6L1527.0 331.8L1528.7 342.0L1530.4 353.1L1531.9 364.9L1533.3 377.4L1534.6 390.6L1535.8 404.4L1536.9 418.7L1537.9 433.6L1538.8 449.0L1539.6 464.8L1540.3 481.2L1540.9 498.1L1541.4 515.4L1541.8 533.3L1542.1 551.7L1542.3 570.8L1542.5 590.8L1542.6 612.1L1542.6 637.5L1544.4 637.5C1544.4 596.5 1545.2 569.2 1546.0 535.0C1546.7 505.8 1546.5 476.6 1548.5 447.5C1549.6 431.6 1549.0 415.3 1552.8 400.0C1554.4 393.2 1555.5 385.8 1559.0 380.0C1560.9 376.8 1563.2 373.6 1566.0 371.2C1567.7 369.8 1569.9 369.0 1571.5 367.5C1574.3 364.9 1575.8 360.9 1577.8 357.5C1581.0 351.9 1583.6 345.8 1586.5 340.0C1589.8 333.3 1592.6 326.3 1596.5 320.0C1599.5 315.2 1602.3 309.9 1606.5 306.2C1609.4 303.7 1612.9 301.2 1616.5 300.0C1619.3 299.1 1621.8 298.8 1625.2 298.8C1630.8 298.8 1634.6 299.8 1639.0 301.2C1644.3 302.9 1648.9 306.4 1654.0 308.8C1658.9 311.0 1663.9 313.4 1669.0 315.0C1674.7 316.8 1680.7 317.5 1686.5 318.8" stroke-width="3.0"/>
</g>
<clipPath id="clip2"><rect x="86" y="820" width="744" height="568.5999999999999"/></clipPath>
<g clip-path="url(#clip2)" fill="none" stroke="#231f20" stroke-linejoin="round">
<path d="M121.2 1074.8C125.0 1076.0 129.0 1076.7 132.5 1078.5C136.1 1080.4 139.6 1083.1 142.5 1086.0C146.7 1090.2 149.7 1095.7 152.5 1101.0C155.8 1107.3 157.8 1114.2 160.0 1121.0C162.6 1129.2 164.2 1137.6 166.2 1146.0C168.0 1153.2 169.9 1160.3 171.2 1167.5C173.9 1181.5 174.8 1195.8 176.2 1210.0C177.3 1220.4 179.1 1228.8 179.1 1241.2L180.9 1241.2L180.9 1240.8L181.1 1239.3L181.3 1236.5L181.7 1232.3L182.2 1226.7L182.8 1219.7L183.6 1211.3L184.6 1201.6L185.6 1190.7L186.9 1178.6L188.3 1165.5L189.8 1151.6L191.5 1137.0L193.4 1122.0L195.5 1106.8L197.7 1091.7L200.1 1076.9L202.7 1062.8L205.4 1049.7L208.4 1037.9L211.5 1027.8L214.8 1019.5L218.2 1013.6L221.9 1010.0L225.8 1009.0L228.0 1009.5L230.1 1011.2L232.1 1014.2L234.0 1018.3L235.8 1023.6L237.5 1029.7L239.1 1036.8L240.5 1044.6L241.9 1053.1L243.2 1062.2L244.4 1071.8L245.5 1081.7L246.5 1091.9L247.4 1102.4L248.2 1113.0L248.9 1123.6L249.5 1134.1L250.0 1144.5L250.5 1154.7L250.9 1164.6L251.1 1174.0L251.4 1182.8L251.5 1190.8L251.6 1197.7L251.6 1202.5L253.4 1202.5L253.4 1172.6L253.6 1148.9L253.9 1127.0L254.3 1106.3L254.9 1086.6L255.6 1067.6L256.5 1049.4L257.5 1031.8L258.7 1014.8L260.1 998.4L261.7 982.7L263.4 967.7L265.3 953.3L267.5 939.6L269.8 926.7L272.3 914.5L275.0 903.3L277.8 892.9L280.9 883.5L284.2 875.2L287.7 868.1L291.4 862.2L295.3 857.8L299.4 855.0L303.8 854.0L307.1 854.4L310.3 855.8L313.3 858.6L316.2 862.8L318.9 868.2L321.5 875.0L323.9 882.9L326.1 892.1L328.2 902.3L330.1 913.6L331.9 925.8L333.6 938.9L335.1 952.9L336.4 967.7L337.6 983.1L338.7 999.3L339.7 1016.1L340.5 1033.5L341.2 1051.5L341.7 1070.0L342.2 1089.1L342.5 1108.8L342.7 1129.2L342.8 1150.6L342.9 1174.8L344.6 1174.8L344.7 1159.9L344.7 1147.5L344.8 1135.8L345.0 1124.7L345.1 1113.9L345.4 1103.5L345.7 1093.4L346.0 1083.6L346.5 1074.2L346.9 1065.0L347.5 1056.1L348.1 1047.5L348.7 1039.3L349.4 1031.4L350.2 1023.9L351.1 1016.8L352.0 1010.2L353.0 1004.0L354.0 998.4L355.1 993.4L356.3 988.9L357.6 985.3L358.9 982.4L360.3 980.5L361.8 979.8L363.5 981.1L365.2 984.1L366.8 988.5L368.3 994.0L369.7 1000.5L371.1 1007.7L372.4 1015.7L373.5 1024.2L374.6 1033.4L375.7 1043.1L376.6 1053.2L377.5 1063.7L378.3 1074.7L379.0 1085.9L379.6 1097.5L380.2 1109.4L380.7 1121.5L381.1 1133.8L381.5 1146.4L381.8 1159.2L382.0 1172.2L382.2 1185.5L382.3 1199.0L382.3 1212.8L382.4 1227.5L384.1 1227.5L384.2 1208.6L384.2 1193.5L384.3 1179.6L384.5 1166.5L384.6 1154.0L384.9 1142.0L385.2 1130.4L385.5 1119.2L386.0 1108.5L386.4 1098.1L387.0 1088.1L387.6 1078.6L388.2 1069.5L388.9 1060.8L389.7 1052.6L390.6 1044.9L391.5 1037.7L392.5 1031.2L393.5 1025.2L394.6 1019.9L395.8 1015.4L397.1 1011.7L398.4 1008.9L399.8 1007.1L401.2 1006.5L402.9 1007.0L404.5 1009.2L405.9 1013.3L407.3 1019.3L408.7 1027.2L409.9 1036.8L411.1 1048.0L412.2 1060.5L413.2 1074.2L414.1 1088.8L415.0 1104.2L415.8 1120.1L416.6 1136.4L417.2 1152.8L417.8 1169.1L418.3 1185.2L418.8 1200.8L419.2 1215.8L419.5 1229.9L419.8 1243.0L420.0 1254.9L420.2 1265.3L420.3 1274.0L420.3 1280.5L420.4 1283.8L422.1 1283.8L422.2 1226.0L422.2 1200.0L422.3 1179.7L422.5 1162.4L422.7 1147.2L422.9 1133.3L423.2 1120.6L423.6 1108.9L424.0 1097.9L424.5 1087.7L425.1 1078.1L425.7 1069.1L426.4 1060.6L427.1 1052.6L428.0 1045.2L428.8 1038.3L429.8 1031.8L430.8 1025.9L431.9 1020.5L433.1 1015.7L434.3 1011.5L435.6 1007.9L437.0 1005.0L438.5 1003.1L440.0 1002.2L441.6 1003.0L443.2 1005.5L444.7 1009.5L446.1 1014.9L447.4 1021.5L448.7 1029.1L449.8 1037.7L450.9 1047.0L451.9 1056.9L452.9 1067.2L453.8 1077.9L454.6 1088.7L455.3 1099.7L456.0 1110.6L456.6 1121.3L457.1 1131.8L457.5 1141.9L457.9 1151.6L458.3 1160.6L458.5 1169.0L458.8 1176.5L458.9 1183.1L459.0 1188.6L459.1 1192.7L459.1 1194.8L460.9 1194.8L460.9 1186.9L461.0 1177.2L461.1 1166.8L461.2 1155.8L461.4 1144.5L461.7 1133.0L462.0 1121.4L462.4 1109.7L462.8 1098.0L463.3 1086.5L463.8 1075.1L464.5 1064.0L465.1 1053.2L465.9 1042.8L466.7 1032.9L467.6 1023.6L468.5 1014.9L469.6 1007.0L470.7 999.8L471.8 993.6L473.1 988.4L474.4 984.2L475.8 981.2L477.2 979.5L478.8 979.0L480.1 979.5L481.4 981.0L482.6 983.3L483.8 986.4L484.9 990.1L485.9 994.5L486.9 999.6L487.8 1005.2L488.7 1011.3L489.4 1018.0L490.2 1025.2L490.8 1033.0L491.4 1041.3L492.0 1050.1L492.5 1059.5L492.9 1069.5L493.3 1080.1L493.6 1091.4L493.9 1103.6L494.1 1116.7L494.3 1131.0L494.5 1146.8L494.5 1165.0L494.6 1187.4L494.6 1230.0L496.4 1230.0L496.4 1215.4L496.5 1197.4L496.7 1177.9L497.0 1157.6L497.4 1136.6L498.0 1115.3L498.6 1093.9L499.3 1072.4L500.2 1051.2L501.2 1030.3L502.3 1009.9L503.6 990.1L505.0 971.2L506.5 953.1L508.1 936.2L509.9 920.5L511.9 906.2L513.9 893.5L516.1 882.3L518.5 873.0L521.0 865.5L523.7 859.9L526.4 856.3L529.4 854.4L532.5 854.0L536.1 855.9L539.5 860.7L542.7 867.9L545.8 877.0L548.6 887.9L551.4 900.2L553.9 913.7L556.3 928.2L558.5 943.6L560.6 959.6L562.5 976.2L564.2 993.3L565.8 1010.5L567.3 1028.0L568.6 1045.5L569.7 1062.9L570.7 1080.1L571.6 1097.0L572.3 1113.4L572.9 1129.2L573.4 1144.3L573.7 1158.3L573.9 1171.1L574.1 1182.2L574.1 1189.8L575.9 1189.8L575.9 1186.0L576.0 1180.1L576.1 1172.9L576.2 1164.8L576.4 1156.1L576.7 1146.7L577.0 1137.0L577.4 1127.0L577.8 1116.7L578.3 1106.4L578.8 1096.1L579.5 1085.9L580.1 1076.0L580.9 1066.3L581.7 1057.1L582.6 1048.5L583.5 1040.4L584.6 1033.1L585.7 1026.6L586.8 1021.1L588.1 1016.6L589.4 1013.1L590.8 1010.8L592.2 1009.6L593.8 1009.2L595.9 1010.9L597.9 1014.9L599.8 1020.6L601.7 1027.6L603.4 1035.6L605.0 1044.6L606.5 1054.2L608.0 1064.4L609.3 1075.0L610.5 1086.0L611.7 1097.1L612.7 1108.3L613.7 1119.5L614.5 1130.6L615.3 1141.6L616.0 1152.3L616.6 1162.7L617.1 1172.6L617.5 1182.0L617.9 1190.8L618.2 1198.9L618.4 1206.1L618.5 1212.3L618.6 1217.2L618.6 1220.0L620.4 1220.0L620.4 1217.2L620.5 1212.4L620.6 1206.2L620.8 1199.1L621.1 1191.1L621.5 1182.6L621.9 1173.5L622.4 1164.0L623.0 1154.3L623.7 1144.4L624.4 1134.5L625.3 1124.7L626.2 1115.0L627.3 1105.7L628.4 1096.7L629.6 1088.3L630.9 1080.6L632.3 1073.6L633.9 1067.4L635.5 1062.2L637.2 1058.0L639.0 1054.9L640.9 1052.8L642.9 1051.7L645.0 1051.5L648.1 1052.7L651.1 1056.1L653.8 1061.4L656.5 1068.3L659.0 1076.4L661.4 1085.5L663.6 1095.3L665.6 1105.6L667.6 1116.2L669.4 1126.9L671.0 1137.5L672.5 1147.8L673.9 1157.7L675.2 1167.1L676.3 1175.8L677.3 1183.9L678.2 1191.1L678.9 1197.5L679.5 1203.0L680.1 1207.5L680.5 1211.2L680.8 1213.9L681.0 1215.7L681.1 1216.7L681.1 1217.0L682.9 1217.0L682.9 1216.7L683.1 1215.6L683.3 1213.5L683.6 1210.5L684.0 1206.5L684.6 1201.5L685.3 1195.7L686.1 1189.2L687.1 1182.0L688.2 1174.4L689.4 1166.4L690.8 1158.3L692.3 1150.4L694.0 1142.6L695.8 1135.4L697.7 1128.7L699.9 1122.8L702.1 1117.8L704.6 1113.8L707.1 1110.7L709.9 1108.5L712.8 1107.2L715.9 1106.5L719.1 1106.3L722.5 1106.2C727.5 1106.2 731.0 1109.1 735.0 1111.0C740.2 1113.4 744.8 1117.3 750.0 1119.8C754.0 1121.7 758.2 1123.5 762.5 1124.8C765.8 1125.7 769.2 1126.1 772.5 1126.8" stroke-width="3.0" stroke-dasharray="4 2.2"/>
<path d="M131.2 1014.0C135.8 1013.4 140.5 1013.2 145.0 1012.2C150.1 1011.2 155.0 1009.5 160.0 1008.0C165.0 1006.4 169.9 1004.2 175.0 1003.0C179.9 1001.9 184.0 1001.0 190.0 1001.0L194.1 1001.2L198.0 1002.2L201.7 1004.1L205.2 1006.9L208.6 1010.9L211.7 1015.8L214.6 1021.7L217.4 1028.7L219.9 1036.6L222.3 1045.5L224.5 1055.3L226.5 1066.0L228.3 1077.7L230.0 1090.3L231.5 1103.8L232.8 1118.4L233.9 1133.9L234.9 1150.6L235.8 1168.4L236.5 1187.7L237.0 1208.7L237.4 1231.8L237.7 1258.1L237.8 1289.9L237.8 1346.2L239.7 1346.2L239.7 1298.4L239.9 1262.1L240.2 1229.4L240.8 1198.7L241.5 1169.8L242.4 1142.2L243.5 1115.8L244.8 1090.5L246.4 1066.3L248.1 1043.2L250.1 1021.2L252.3 1000.2L254.7 980.4L257.4 961.7L260.3 944.2L263.5 928.0L266.9 913.2L270.5 899.8L274.4 887.9L278.6 877.7L283.0 869.1L287.7 862.4L292.6 857.6L297.8 854.8L303.2 854.0L307.1 854.6L310.9 856.7L314.4 860.6L317.7 866.1L320.8 873.1L323.8 881.5L326.6 891.2L329.2 901.9L331.6 913.5L333.9 925.9L335.9 938.8L337.8 952.0L339.6 965.5L341.1 979.1L342.6 992.5L343.8 1005.7L344.9 1018.5L345.8 1030.7L346.6 1042.2L347.3 1052.9L347.8 1062.6L348.2 1071.0L348.4 1078.1L348.6 1083.3L348.6 1086.0L350.4 1086.0L350.4 1085.8L350.5 1085.1L350.6 1083.9L350.7 1082.3L350.9 1080.2L351.1 1077.7L351.4 1074.8L351.7 1071.6L352.1 1067.9L352.6 1064.0L353.1 1059.8L353.7 1055.3L354.3 1050.7L355.0 1045.9L355.7 1041.1L356.5 1036.3L357.4 1031.6L358.3 1027.0L359.3 1022.7L360.4 1018.7L361.5 1015.2L362.7 1012.3L364.0 1010.0L365.3 1008.5L366.8 1008.0L368.3 1009.3L369.9 1012.2L371.3 1016.3L372.7 1021.3L374.0 1027.0L375.2 1033.1L376.3 1039.5L377.4 1046.1L378.4 1052.8L379.3 1059.4L380.2 1065.8L380.9 1072.0L381.6 1077.9L382.3 1083.5L382.9 1088.6L383.4 1093.3L383.8 1097.5L384.2 1101.1L384.5 1104.3L384.8 1106.9L385.0 1108.9L385.2 1110.5L385.3 1111.5L385.3 1112.1L385.4 1112.2L387.1 1112.2L387.2 1111.8L387.2 1110.8L387.3 1109.3L387.4 1107.5L387.6 1105.3L387.8 1102.9L388.0 1100.2L388.3 1097.2L388.7 1094.0L389.1 1090.7L389.5 1087.2L390.1 1083.5L390.6 1079.8L391.2 1076.0L391.9 1072.2L392.6 1068.4L393.4 1064.7L394.2 1061.1L395.1 1057.6L396.1 1054.4L397.1 1051.5L398.2 1048.9L399.3 1046.8L400.5 1045.4L401.8 1044.8L402.7 1045.1L403.6 1046.0L404.5 1047.1L405.3 1048.6L406.1 1050.2L406.8 1052.0L407.5 1053.8L408.1 1055.7L408.7 1057.6L409.2 1059.5L409.8 1061.4L410.2 1063.2L410.6 1064.9L411.0 1066.5L411.4 1067.9L411.7 1069.3L411.9 1070.5L412.2 1071.5L412.4 1072.5L412.5 1073.2L412.7 1073.8L412.7 1074.2L412.8 1074.5L412.8 1074.7L412.9 1074.8L414.6 1074.8L414.7 1074.5L414.7 1073.8L414.9 1072.3L415.1 1070.2L415.4 1067.4L415.7 1063.9L416.2 1059.7L416.7 1054.7L417.3 1049.1L418.0 1042.9L418.8 1036.1L419.7 1028.9L420.7 1021.2L421.7 1013.2L422.9 1005.1L424.1 996.8L425.5 988.6L427.0 980.6L428.5 973.0L430.2 966.0L431.9 959.7L433.8 954.4L435.8 950.3L437.8 947.7L440.0 946.8L441.9 947.3L443.6 949.3L445.3 952.8L446.9 957.9L448.4 964.2L449.8 971.7L451.1 980.2L452.4 989.4L453.5 999.2L454.6 1009.2L455.6 1019.4L456.5 1029.5L457.3 1039.4L458.1 1048.8L458.7 1057.8L459.3 1066.1L459.8 1073.6L460.3 1080.3L460.7 1086.1L461.0 1090.9L461.2 1094.8L461.4 1097.7L461.5 1099.6L461.6 1100.7L461.6 1101.0L463.4 1101.0L463.4 1099.9L463.5 1097.5L463.6 1094.0L463.7 1089.7L463.9 1084.5L464.2 1078.7L464.5 1072.3L464.9 1065.3L465.3 1057.8L465.8 1050.0L466.4 1041.8L467.1 1033.5L467.8 1024.9L468.5 1016.3L469.4 1007.8L470.3 999.4L471.3 991.3L472.3 983.6L473.4 976.4L474.6 969.8L475.9 964.0L477.3 959.2L478.7 955.5L480.2 953.1L481.8 952.2L483.2 953.5L484.6 956.3L485.9 960.5L487.1 965.7L488.3 971.8L489.4 978.7L490.4 986.4L491.4 994.8L492.3 1003.8L493.1 1013.5L493.9 1023.8L494.6 1034.6L495.2 1046.1L495.8 1058.1L496.4 1070.7L496.8 1083.9L497.2 1097.8L497.6 1112.4L497.9 1127.8L498.1 1144.0L498.3 1161.4L498.4 1180.2L498.5 1201.1L498.6 1225.4L498.6 1263.8L500.4 1263.8L500.4 1200.3L500.5 1164.4L500.7 1134.8L501.0 1108.6L501.3 1084.9L501.8 1063.0L502.3 1042.6L503.0 1023.6L503.7 1005.7L504.6 988.9L505.6 973.2L506.7 958.4L507.9 944.5L509.2 931.7L510.7 919.8L512.2 908.8L513.9 898.8L515.7 889.9L517.7 882.0L519.7 875.2L521.9 869.6L524.3 865.2L526.7 862.1L529.3 860.3L532.0 859.8L535.2 861.3L538.2 865.2L541.1 870.9L543.8 878.1L546.4 886.4L548.8 895.6L551.1 905.4L553.2 915.5L555.2 925.8L557.0 936.2L558.7 946.3L560.3 956.1L561.7 965.5L563.0 974.4L564.2 982.6L565.2 990.2L566.1 996.9L566.8 1002.9L567.5 1008.0L568.0 1012.2L568.4 1015.6L568.8 1018.1L569.0 1019.8L569.1 1020.7L569.1 1021.0L570.9 1021.0L570.9 1021.0L571.0 1020.8L571.1 1020.5L571.2 1020.1L571.4 1019.5L571.6 1018.8L571.9 1017.9L572.3 1016.8L572.7 1015.7L573.1 1014.4L573.6 1012.9L574.2 1011.4L574.8 1009.7L575.5 1008.0L576.3 1006.2L577.1 1004.3L578.0 1002.4L579.0 1000.6L580.0 998.8L581.1 997.1L582.2 995.5L583.4 994.1L584.7 992.9L586.1 992.1L587.5 991.8L590.2 993.1L592.8 996.7L595.2 1002.1L597.6 1008.9L599.8 1016.9L601.8 1026.1L603.8 1036.1L605.6 1046.9L607.3 1058.3L608.8 1070.2L610.3 1082.6L611.6 1095.2L612.8 1108.1L613.9 1121.1L614.9 1134.0L615.8 1147.0L616.5 1159.8L617.2 1172.3L617.7 1184.5L618.2 1196.3L618.5 1207.4L618.8 1217.9L619.0 1227.4L619.1 1235.6L619.1 1241.2L620.9 1241.2C620.9 1216.8 621.0 1200.4 622.5 1180.0C623.4 1167.5 624.5 1154.9 626.2 1142.5C627.3 1135.0 627.8 1127.2 630.0 1120.0C631.6 1114.8 632.9 1109.0 636.2 1105.0C638.3 1102.5 640.9 1100.2 643.8 1098.8C646.0 1097.5 649.0 1097.6 651.2 1096.2C653.7 1094.8 655.7 1092.3 657.5 1090.0C660.2 1086.6 661.8 1082.4 663.8 1078.5C667.0 1072.0 669.2 1065.0 672.5 1058.5C675.5 1052.5 678.3 1046.2 682.5 1041.0C685.4 1037.3 688.6 1033.4 692.5 1031.0C695.5 1029.2 699.1 1028.0 702.5 1027.2C705.3 1026.6 707.8 1026.5 711.2 1026.5C717.8 1026.5 722.1 1028.1 727.5 1029.0C733.3 1030.0 739.2 1031.2 745.0 1032.2C750.4 1033.3 755.8 1034.2 761.2 1035.2" stroke-width="3.0"/>
</g>
<clipPath id="clip3"><rect x="1014.5" y="820" width="751.5" height="568.5999999999999"/></clipPath>
<g clip-path="url(#clip3)" fill="none" stroke="#231f20" stroke-linejoin="round">
<path d="M1061.0 1147.2C1065.0 1146.4 1069.0 1145.4 1073.0 1144.8C1078.0 1143.9 1082.0 1143.0 1088.0 1143.0L1092.6 1143.2L1097.1 1144.2L1101.3 1145.9L1105.2 1148.5L1109.0 1151.8L1112.5 1155.8L1115.8 1160.4L1118.9 1165.5L1121.8 1170.9L1124.5 1176.7L1127.0 1182.6L1129.3 1188.6L1131.3 1194.5L1133.2 1200.3L1134.9 1205.9L1136.4 1211.2L1137.7 1216.2L1138.8 1220.7L1139.8 1224.7L1140.5 1228.1L1141.1 1231.0L1141.6 1233.3L1141.9 1234.9L1142.1 1235.9L1142.1 1236.2L1143.9 1236.2L1143.9 1235.9L1144.1 1234.8L1144.3 1232.8L1144.7 1229.8L1145.2 1225.8L1145.8 1220.8L1146.6 1214.8L1147.5 1207.9L1148.6 1200.2L1149.8 1191.7L1151.1 1182.5L1152.7 1172.9L1154.4 1162.9L1156.2 1152.7L1158.2 1142.5L1160.4 1132.5L1162.8 1122.9L1165.3 1113.9L1168.0 1105.7L1170.9 1098.6L1174.0 1092.6L1177.2 1088.0L1180.6 1084.9L1184.2 1083.2L1188.0 1082.8L1190.6 1083.0L1193.1 1084.1L1195.4 1086.0L1197.7 1088.6L1199.8 1092.0L1201.8 1095.9L1203.6 1100.4L1205.4 1105.2L1207.0 1110.4L1208.5 1115.6L1209.9 1121.0L1211.1 1126.3L1212.3 1131.5L1213.4 1136.5L1214.3 1141.2L1215.1 1145.6L1215.9 1149.6L1216.5 1153.1L1217.0 1156.1L1217.5 1158.7L1217.8 1160.7L1218.1 1162.2L1218.2 1163.3L1218.3 1163.8L1218.3 1164.0L1220.2 1164.0L1220.2 1163.8L1220.3 1163.3L1220.4 1162.3L1220.7 1160.8L1221.1 1158.9L1221.5 1156.4L1222.1 1153.4L1222.7 1149.9L1223.5 1146.0L1224.4 1141.6L1225.3 1136.8L1226.4 1131.6L1227.6 1126.1L1229.0 1120.3L1230.4 1114.4L1232.0 1108.4L1233.7 1102.4L1235.5 1096.4L1237.4 1090.7L1239.5 1085.3L1241.7 1080.5L1244.0 1076.3L1246.5 1072.9L1249.0 1070.6L1251.8 1069.8L1254.1 1070.2L1256.3 1071.7L1258.5 1074.4L1260.5 1078.4L1262.4 1083.5L1264.1 1089.6L1265.8 1096.8L1267.4 1105.0L1268.9 1114.0L1270.2 1123.7L1271.5 1134.2L1272.6 1145.3L1273.7 1157.0L1274.6 1169.2L1275.5 1181.8L1276.2 1194.7L1276.9 1208.0L1277.4 1221.5L1277.9 1235.2L1278.3 1249.0L1278.6 1262.8L1278.8 1276.6L1279.0 1290.3L1279.1 1303.7L1279.1 1316.2L1280.9 1316.2L1280.9 1234.5L1281.0 1210.8L1281.1 1194.0L1281.2 1180.5L1281.5 1169.1L1281.7 1159.1L1282.1 1150.3L1282.5 1142.3L1282.9 1135.0L1283.4 1128.4L1284.0 1122.3L1284.7 1116.7L1285.4 1111.6L1286.2 1106.9L1287.1 1102.5L1288.1 1098.6L1289.1 1095.1L1290.2 1091.9L1291.3 1089.1L1292.6 1086.7L1293.9 1084.7L1295.3 1083.1L1296.8 1081.9L1298.4 1081.2L1300.0 1081.0L1301.5 1081.7L1302.9 1083.2L1304.2 1085.5L1305.4 1088.3L1306.6 1091.7L1307.8 1095.4L1308.8 1099.6L1309.8 1104.1L1310.7 1109.0L1311.5 1114.1L1312.3 1119.6L1313.0 1125.3L1313.7 1131.3L1314.3 1137.5L1314.8 1144.0L1315.3 1150.7L1315.7 1157.7L1316.1 1164.9L1316.4 1172.5L1316.6 1180.3L1316.8 1188.5L1316.9 1197.1L1317.0 1206.4L1317.1 1216.6L1317.1 1230.0L1318.9 1230.0C1318.9 1198.4 1318.9 1177.3 1320.5 1151.0C1321.3 1138.5 1322.0 1125.9 1323.5 1113.5C1324.7 1103.5 1325.2 1093.1 1328.0 1083.5C1329.4 1078.8 1329.8 1072.8 1333.0 1069.8C1334.7 1068.1 1337.5 1067.6 1339.2 1066.0C1342.1 1063.5 1343.8 1059.5 1345.5 1056.0C1349.7 1047.2 1348.9 1036.0 1350.5 1026.0C1352.2 1015.2 1353.0 1004.1 1355.5 993.5C1357.2 986.2 1358.9 978.7 1361.8 971.8C1363.8 966.7 1366.2 957.2 1369.2 957.2L1371.1 957.9L1372.9 960.2L1374.5 964.1L1376.1 969.6L1377.6 976.4L1379.0 984.5L1380.4 993.8L1381.6 1004.0L1382.8 1015.0L1383.8 1026.8L1384.8 1039.1L1385.7 1051.9L1386.6 1064.9L1387.3 1078.2L1388.0 1091.5L1388.6 1104.8L1389.1 1117.9L1389.5 1130.7L1389.9 1143.1L1390.2 1155.0L1390.5 1166.1L1390.6 1176.3L1390.8 1185.3L1390.8 1192.8L1390.8 1197.5L1392.7 1197.5L1392.7 1169.6L1392.7 1151.2L1392.8 1135.2L1393.0 1120.7L1393.1 1107.1L1393.4 1094.4L1393.7 1082.4L1394.0 1070.9L1394.5 1059.9L1394.9 1049.4L1395.5 1039.4L1396.1 1029.9L1396.7 1020.8L1397.4 1012.1L1398.2 1003.9L1399.1 996.2L1400.0 988.9L1401.0 982.2L1402.0 976.0L1403.1 970.5L1404.3 965.5L1405.6 961.4L1406.9 958.0L1408.3 955.7L1409.8 954.8L1411.2 955.8L1412.6 958.4L1413.9 962.1L1415.1 966.8L1416.3 972.2L1417.4 978.4L1418.4 985.3L1419.4 992.8L1420.3 1000.9L1421.1 1009.5L1421.9 1018.6L1422.6 1028.3L1423.2 1038.4L1423.8 1049.0L1424.4 1060.2L1424.8 1071.8L1425.2 1084.0L1425.6 1096.8L1425.9 1110.2L1426.1 1124.4L1426.3 1139.5L1426.4 1155.7L1426.5 1173.4L1426.6 1194.0L1426.6 1225.0L1428.4 1225.0L1428.4 1166.5L1428.5 1134.6L1428.7 1108.4L1429.0 1085.5L1429.3 1064.7L1429.8 1045.5L1430.3 1027.6L1431.0 1010.9L1431.7 995.1L1432.6 980.2L1433.6 966.1L1434.6 952.7L1435.8 940.1L1437.2 928.2L1438.6 916.9L1440.1 906.4L1441.8 896.6L1443.6 887.6L1445.5 879.3L1447.6 871.8L1449.8 865.3L1452.1 859.8L1454.5 855.4L1457.1 852.3L1459.8 851.0L1463.0 853.3L1466.2 858.7L1469.2 866.2L1472.0 875.4L1474.6 885.8L1477.1 897.0L1479.5 908.8L1481.7 921.0L1483.7 933.2L1485.6 945.3L1487.4 957.1L1489.0 968.5L1490.5 979.3L1491.8 989.5L1493.0 998.9L1494.0 1007.4L1495.0 1015.1L1495.8 1021.8L1496.4 1027.6L1497.0 1032.4L1497.4 1036.2L1497.7 1039.0L1498.0 1040.9L1498.1 1042.0L1498.1 1042.2L1499.9 1042.2L1499.9 1042.1L1500.0 1041.8L1500.0 1041.3L1500.1 1040.6L1500.3 1039.7L1500.5 1038.6L1500.7 1037.3L1501.0 1035.9L1501.3 1034.3L1501.7 1032.5L1502.1 1030.6L1502.6 1028.6L1503.1 1026.5L1503.6 1024.3L1504.2 1022.0L1504.9 1019.7L1505.6 1017.5L1506.4 1015.2L1507.2 1013.1L1508.1 1011.0L1509.0 1009.1L1510.0 1007.5L1511.0 1006.1L1512.1 1005.2L1513.2 1004.8L1515.6 1006.3L1517.9 1009.8L1520.1 1014.9L1522.1 1021.3L1524.1 1028.8L1525.9 1037.2L1527.6 1046.6L1529.2 1056.8L1530.7 1067.7L1532.0 1079.3L1533.3 1091.5L1534.5 1104.4L1535.6 1117.8L1536.5 1131.9L1537.4 1146.5L1538.2 1161.6L1538.8 1177.3L1539.4 1193.6L1539.9 1210.6L1540.3 1228.2L1540.6 1246.6L1540.8 1266.0L1541.0 1286.8L1541.1 1309.7L1541.1 1340.0L1542.9 1340.0C1542.9 1264.4 1542.4 1213.9 1546.0 1151.0C1546.9 1136.0 1546.5 1120.7 1549.0 1106.0C1550.3 1098.4 1550.5 1090.0 1554.0 1083.5C1555.7 1080.4 1558.2 1074.7 1560.2 1074.8C1561.5 1074.8 1562.8 1075.4 1564.0 1076.0C1566.5 1077.2 1568.2 1080.2 1570.2 1082.2C1571.9 1083.9 1573.2 1087.2 1575.2 1087.2C1577.8 1087.2 1579.4 1077.3 1581.5 1072.2C1584.0 1066.0 1586.1 1059.5 1589.0 1053.5C1591.9 1047.5 1595.0 1041.4 1599.0 1036.0C1602.0 1032.0 1605.1 1027.8 1609.0 1024.8C1612.0 1022.4 1615.4 1020.3 1619.0 1019.0C1622.9 1017.6 1626.5 1017.2 1631.5 1017.2C1638.5 1017.2 1643.2 1019.6 1649.0 1021.0C1654.9 1022.5 1660.6 1024.5 1666.5 1026.0C1673.1 1027.7 1679.8 1029.0 1686.5 1030.5" stroke-width="3.0" stroke-dasharray="4 2.2"/>
<path d="M1061.0 1128.5C1065.0 1128.1 1069.0 1127.7 1073.0 1127.2C1078.8 1126.5 1083.5 1124.8 1090.5 1124.8L1095.5 1124.9L1100.3 1125.5L1104.8 1126.8L1109.1 1129.1L1113.1 1132.4L1116.9 1136.6L1120.5 1142.0L1123.9 1148.3L1127.0 1155.6L1129.9 1163.9L1132.6 1173.1L1135.0 1183.1L1137.2 1193.9L1139.3 1205.4L1141.1 1217.6L1142.7 1230.5L1144.1 1243.9L1145.3 1257.8L1146.3 1272.2L1147.2 1287.0L1147.8 1302.1L1148.3 1317.7L1148.6 1333.6L1148.8 1350.0L1148.8 1367.5L1150.7 1367.5L1150.7 1364.0L1150.8 1357.1L1151.0 1347.9L1151.3 1336.8L1151.8 1324.2L1152.3 1310.2L1153.0 1295.2L1153.8 1279.4L1154.7 1262.8L1155.8 1245.9L1157.0 1228.7L1158.3 1211.6L1159.8 1194.6L1161.4 1178.1L1163.2 1162.2L1165.1 1147.2L1167.2 1133.2L1169.4 1120.6L1171.8 1109.4L1174.3 1100.0L1177.0 1092.3L1179.8 1086.6L1182.8 1082.9L1185.9 1080.9L1189.2 1080.5C1192.8 1080.5 1195.4 1082.9 1198.0 1084.8C1202.0 1087.5 1204.2 1092.7 1208.0 1096.0C1211.1 1098.7 1214.0 1103.0 1218.0 1103.0C1222.0 1103.0 1225.1 1093.6 1228.0 1088.5C1232.1 1081.4 1233.2 1072.3 1238.0 1066.0C1240.8 1062.3 1244.0 1056.0 1248.0 1056.0L1250.6 1057.1L1253.2 1059.8L1255.6 1063.9L1257.8 1069.1L1260.0 1075.4L1262.0 1082.5L1263.9 1090.3L1265.6 1098.8L1267.3 1107.9L1268.8 1117.5L1270.2 1127.5L1271.5 1137.9L1272.7 1148.6L1273.8 1159.6L1274.7 1170.8L1275.6 1182.1L1276.3 1193.5L1277.0 1204.9L1277.5 1216.4L1278.0 1227.8L1278.3 1239.0L1278.6 1250.1L1278.7 1260.8L1278.8 1271.1L1278.8 1280.0L1280.7 1280.0L1280.7 1225.6L1280.7 1204.8L1280.8 1189.1L1281.0 1176.1L1281.2 1164.8L1281.4 1154.7L1281.7 1145.5L1282.1 1137.1L1282.5 1129.3L1283.0 1122.1L1283.5 1115.4L1284.1 1109.1L1284.8 1103.2L1285.5 1097.7L1286.3 1092.6L1287.1 1087.9L1288.1 1083.5L1289.1 1079.5L1290.1 1075.8L1291.3 1072.6L1292.5 1069.7L1293.7 1067.3L1295.1 1065.4L1296.5 1064.1L1298.0 1063.5L1299.6 1064.4L1301.2 1066.5L1302.7 1069.5L1304.1 1073.3L1305.4 1077.7L1306.7 1082.7L1307.8 1088.3L1308.9 1094.3L1309.9 1100.7L1310.9 1107.5L1311.8 1114.7L1312.6 1122.2L1313.3 1130.1L1314.0 1138.3L1314.6 1146.8L1315.1 1155.5L1315.5 1164.6L1315.9 1174.0L1316.3 1183.7L1316.5 1193.8L1316.8 1204.2L1316.9 1215.1L1317.0 1226.7L1317.1 1239.2L1317.1 1255.0L1318.9 1255.0C1318.9 1213.4 1318.3 1185.6 1320.5 1151.0C1321.3 1138.5 1322.0 1125.9 1323.5 1113.5C1324.7 1103.5 1325.2 1093.1 1328.0 1083.5C1329.4 1078.8 1329.8 1072.8 1333.0 1069.8C1334.7 1068.1 1337.5 1067.6 1339.2 1066.0C1342.1 1063.5 1343.8 1059.5 1345.5 1056.0C1349.7 1047.2 1348.9 1036.0 1350.5 1026.0C1352.2 1015.2 1353.0 1004.1 1355.5 993.5C1357.2 986.2 1358.9 978.7 1361.8 971.8C1363.8 966.7 1366.2 957.2 1369.2 957.2L1371.1 957.9L1372.9 960.2L1374.5 964.2L1376.1 969.7L1377.6 976.6L1379.0 984.8L1380.4 994.1L1381.6 1004.5L1382.8 1015.6L1383.8 1027.5L1384.8 1040.0L1385.7 1052.9L1386.6 1066.1L1387.3 1079.5L1388.0 1092.9L1388.6 1106.4L1389.1 1119.6L1389.5 1132.6L1389.9 1145.1L1390.2 1157.0L1390.5 1168.2L1390.6 1178.5L1390.8 1187.7L1390.8 1195.2L1390.8 1200.0L1392.7 1200.0L1392.7 1171.8L1392.7 1153.2L1392.8 1137.1L1393.0 1122.4L1393.1 1108.7L1393.4 1095.9L1393.7 1083.7L1394.0 1072.1L1394.5 1061.0L1394.9 1050.4L1395.5 1040.3L1396.1 1030.7L1396.7 1021.5L1397.4 1012.7L1398.2 1004.4L1399.1 996.6L1400.0 989.3L1401.0 982.5L1402.0 976.3L1403.1 970.6L1404.3 965.7L1405.6 961.4L1406.9 958.1L1408.3 955.7L1409.8 954.8L1411.2 955.8L1412.6 958.4L1413.9 962.0L1415.1 966.6L1416.3 972.0L1417.4 978.1L1418.4 984.9L1419.4 992.4L1420.3 1000.3L1421.1 1008.9L1421.9 1018.0L1422.6 1027.6L1423.2 1037.7L1423.8 1048.3L1424.4 1059.4L1424.8 1071.1L1425.2 1083.4L1425.6 1096.3L1425.9 1109.8L1426.1 1124.2L1426.3 1139.6L1426.4 1156.2L1426.5 1174.6L1426.6 1196.1L1426.6 1230.0L1428.4 1230.0L1428.4 1167.6L1428.5 1134.7L1428.7 1108.0L1429.0 1084.7L1429.3 1063.7L1429.8 1044.4L1430.3 1026.4L1431.0 1009.6L1431.7 993.9L1432.6 979.0L1433.6 964.9L1434.6 951.6L1435.8 939.1L1437.2 927.3L1438.6 916.1L1440.1 905.7L1441.8 896.0L1443.6 887.1L1445.5 878.9L1447.6 871.6L1449.8 865.1L1452.1 859.6L1454.5 855.3L1457.1 852.3L1459.8 851.0L1463.0 853.3L1466.2 858.7L1469.2 866.3L1472.0 875.6L1474.6 886.0L1477.1 897.3L1479.5 909.2L1481.7 921.4L1483.7 933.7L1485.6 945.9L1487.4 957.8L1489.0 969.2L1490.5 980.1L1491.8 990.4L1493.0 999.8L1494.0 1008.5L1495.0 1016.2L1495.8 1023.0L1496.4 1028.8L1497.0 1033.6L1497.4 1037.4L1497.7 1040.2L1498.0 1042.2L1498.1 1043.2L1498.1 1043.5L1499.9 1043.5L1499.9 1043.3L1500.0 1042.9L1500.0 1042.2L1500.1 1041.3L1500.3 1040.2L1500.5 1038.9L1500.7 1037.5L1501.0 1035.9L1501.3 1034.1L1501.7 1032.2L1502.1 1030.2L1502.6 1028.1L1503.1 1026.0L1503.6 1023.8L1504.2 1021.5L1504.9 1019.2L1505.6 1017.0L1506.4 1014.8L1507.2 1012.7L1508.1 1010.7L1509.0 1008.9L1510.0 1007.3L1511.0 1006.1L1512.1 1005.1L1513.2 1004.8L1515.6 1006.2L1517.9 1009.8L1520.1 1014.8L1522.1 1021.2L1524.1 1028.6L1525.9 1037.1L1527.6 1046.4L1529.2 1056.6L1530.7 1067.5L1532.0 1079.1L1533.3 1091.4L1534.5 1104.3L1535.6 1117.8L1536.5 1132.0L1537.4 1146.7L1538.2 1162.1L1538.8 1178.1L1539.4 1194.7L1539.9 1212.1L1540.3 1230.2L1540.6 1249.3L1540.8 1269.6L1541.0 1291.5L1541.1 1316.0L1541.1 1350.0L1542.9 1350.0C1542.9 1270.4 1542.2 1217.2 1546.0 1151.0C1546.9 1136.0 1546.5 1120.7 1549.0 1106.0C1550.3 1098.4 1550.5 1090.0 1554.0 1083.5C1555.7 1080.4 1557.4 1076.1 1560.2 1074.8C1562.4 1073.7 1565.3 1073.8 1567.8 1074.0C1570.1 1074.2 1572.6 1076.4 1574.8 1076.0C1577.4 1075.5 1579.6 1070.4 1581.5 1067.2C1585.1 1061.4 1586.4 1054.1 1589.0 1047.5C1592.3 1039.1 1595.2 1030.6 1599.0 1022.5C1602.1 1015.9 1604.7 1008.8 1609.0 1003.0C1611.9 999.0 1615.0 994.6 1619.0 992.0C1623.2 989.2 1628.0 987.2 1634.0 987.2C1640.0 987.2 1644.0 988.7 1649.0 989.8C1654.9 991.0 1660.6 993.2 1666.5 994.5C1673.1 995.9 1679.8 996.5 1686.5 997.5" stroke-width="2.8" stroke-dasharray="13.5 3 6 3"/>
<path d="M1061.0 1121.0C1065.0 1120.3 1069.0 1119.6 1073.0 1119.0C1078.0 1118.3 1082.0 1117.2 1088.0 1117.2L1093.2 1117.3L1098.2 1117.4L1103.0 1117.9L1107.5 1118.9L1111.7 1120.6L1115.7 1123.2L1119.4 1126.9L1122.9 1131.7L1126.2 1137.7L1129.2 1145.0L1132.0 1153.4L1134.6 1163.2L1136.9 1174.1L1139.1 1186.2L1141.0 1199.5L1142.6 1213.8L1144.1 1229.2L1145.4 1245.6L1146.5 1262.9L1147.3 1281.1L1148.0 1300.3L1148.5 1320.5L1148.9 1341.7L1149.0 1364.5L1149.1 1391.8L1150.9 1391.8L1151.0 1351.1L1151.3 1323.0L1151.8 1298.3L1152.5 1275.6L1153.6 1254.4L1154.9 1234.3L1156.5 1215.2L1158.4 1196.9L1160.6 1179.5L1163.2 1162.7L1166.0 1146.7L1169.2 1131.3L1172.8 1116.7L1176.6 1102.7L1180.8 1089.5L1185.4 1077.0L1190.3 1065.3L1195.6 1054.4L1201.3 1044.4L1207.3 1035.3L1213.7 1027.3L1220.4 1020.5L1227.6 1015.1L1235.1 1011.3L1243.0 1009.8L1246.1 1010.4L1249.0 1012.4L1251.7 1016.0L1254.3 1021.0L1256.8 1027.2L1259.1 1034.7L1261.3 1043.2L1263.4 1052.6L1265.3 1062.9L1267.0 1074.0L1268.7 1085.7L1270.2 1097.8L1271.5 1110.4L1272.8 1123.4L1273.9 1136.5L1274.8 1149.8L1275.7 1163.2L1276.4 1176.4L1277.1 1189.5L1277.6 1202.4L1278.0 1214.8L1278.3 1226.6L1278.5 1237.7L1278.6 1247.6L1278.6 1255.0L1280.4 1255.0L1280.4 1218.8L1280.5 1201.5L1280.6 1187.7L1280.7 1176.0L1280.9 1165.5L1281.2 1155.9L1281.5 1147.1L1281.8 1138.9L1282.3 1131.3L1282.7 1124.1L1283.3 1117.3L1283.9 1111.0L1284.6 1105.0L1285.3 1099.4L1286.1 1094.1L1287.0 1089.2L1287.9 1084.6L1288.9 1080.4L1290.0 1076.6L1291.2 1073.1L1292.4 1070.1L1293.7 1067.5L1295.1 1065.5L1296.5 1064.1L1298.0 1063.5L1299.6 1064.4L1301.2 1066.4L1302.7 1069.3L1304.1 1072.9L1305.4 1077.2L1306.7 1082.2L1307.8 1087.7L1308.9 1093.7L1309.9 1100.2L1310.9 1107.3L1311.8 1114.8L1312.6 1122.9L1313.3 1131.4L1314.0 1140.5L1314.6 1150.2L1315.1 1160.5L1315.5 1171.4L1315.9 1183.1L1316.3 1195.7L1316.5 1209.4L1316.8 1224.4L1316.9 1241.3L1317.0 1260.9L1317.1 1285.7L1317.1 1337.5L1318.9 1337.5C1318.9 1262.9 1316.3 1212.9 1320.5 1151.0C1321.4 1138.5 1322.0 1125.9 1323.5 1113.5C1324.7 1103.5 1325.2 1093.1 1328.0 1083.5C1329.4 1078.8 1329.8 1072.8 1333.0 1069.8C1334.7 1068.1 1337.5 1067.6 1339.2 1066.0C1342.1 1063.5 1343.8 1059.5 1345.5 1056.0C1349.7 1047.2 1348.9 1036.0 1350.5 1026.0C1352.2 1015.2 1353.0 1004.1 1355.5 993.5C1357.2 986.2 1358.9 978.7 1361.8 971.8C1363.8 966.7 1366.2 957.2 1369.2 957.2L1371.1 958.0L1372.9 960.3L1374.5 964.4L1376.1 970.1L1377.6 977.2L1379.0 985.6L1380.4 995.2L1381.6 1005.7L1382.8 1017.1L1383.8 1029.1L1384.8 1041.7L1385.7 1054.6L1386.6 1067.8L1387.3 1081.0L1388.0 1094.3L1388.6 1107.3L1389.1 1120.1L1389.5 1132.5L1389.9 1144.3L1390.2 1155.4L1390.5 1165.6L1390.6 1174.8L1390.8 1182.7L1390.8 1189.0L1390.8 1192.5L1392.7 1192.5L1392.7 1167.2L1392.7 1149.7L1392.8 1134.3L1393.0 1120.2L1393.1 1107.0L1393.4 1094.5L1393.7 1082.6L1394.0 1071.2L1394.5 1060.4L1394.9 1049.9L1395.5 1040.0L1396.1 1030.4L1396.7 1021.3L1397.4 1012.6L1398.2 1004.4L1399.1 996.6L1400.0 989.3L1401.0 982.5L1402.0 976.3L1403.1 970.7L1404.3 965.7L1405.6 961.5L1406.9 958.1L1408.3 955.7L1409.8 954.8L1411.2 955.9L1412.6 958.5L1413.9 962.2L1415.1 966.9L1416.3 972.5L1417.4 978.8L1418.4 985.7L1419.4 993.3L1420.3 1001.4L1421.1 1010.1L1421.9 1019.3L1422.6 1029.0L1423.2 1039.2L1423.8 1049.8L1424.4 1061.0L1424.8 1072.6L1425.2 1084.7L1425.6 1097.4L1425.9 1110.6L1426.1 1124.6L1426.3 1139.3L1426.4 1155.1L1426.5 1172.2L1426.6 1191.7L1426.6 1220.0L1428.4 1220.0L1428.4 1162.3L1428.5 1130.8L1428.7 1105.0L1429.0 1082.3L1429.3 1061.8L1429.8 1042.9L1430.3 1025.3L1431.0 1008.8L1431.7 993.2L1432.6 978.5L1433.6 964.5L1434.6 951.4L1435.8 938.9L1437.2 927.1L1438.6 916.1L1440.1 905.7L1441.8 896.0L1443.6 887.1L1445.5 878.9L1447.6 871.6L1449.8 865.1L1452.1 859.6L1454.5 855.3L1457.1 852.3L1459.8 851.0L1463.0 853.3L1466.2 858.6L1469.2 866.1L1472.0 875.2L1474.6 885.6L1477.1 896.7L1479.5 908.5L1481.7 920.5L1483.7 932.6L1485.6 944.6L1487.4 956.4L1489.0 967.7L1490.5 978.5L1491.8 988.5L1493.0 997.9L1494.0 1006.4L1495.0 1014.0L1495.8 1020.7L1496.4 1026.4L1497.0 1031.2L1497.4 1035.0L1497.7 1037.8L1498.0 1039.7L1498.1 1040.7L1498.1 1041.0L1499.9 1041.0L1499.9 1040.9L1500.0 1040.6L1500.0 1040.1L1500.1 1039.4L1500.3 1038.6L1500.5 1037.5L1500.7 1036.3L1501.0 1034.9L1501.3 1033.3L1501.7 1031.6L1502.1 1029.8L1502.6 1027.8L1503.1 1025.7L1503.6 1023.6L1504.2 1021.4L1504.9 1019.2L1505.6 1017.0L1506.4 1014.9L1507.2 1012.8L1508.1 1010.8L1509.0 1009.0L1510.0 1007.4L1511.0 1006.1L1512.1 1005.1L1513.2 1004.8L1515.6 1006.3L1517.9 1009.8L1520.1 1015.0L1522.1 1021.4L1524.1 1028.9L1525.9 1037.4L1527.6 1046.8L1529.2 1057.0L1530.7 1067.9L1532.0 1079.5L1533.3 1091.7L1534.5 1104.5L1535.6 1117.9L1536.5 1131.7L1537.4 1146.2L1538.2 1161.1L1538.8 1176.5L1539.4 1192.4L1539.9 1208.9L1540.3 1226.0L1540.6 1243.7L1540.8 1262.3L1541.0 1281.9L1541.1 1303.2L1541.1 1330.0L1542.9 1330.0C1542.9 1258.4 1542.6 1210.5 1546.0 1151.0C1546.9 1136.0 1546.5 1120.7 1549.0 1106.0C1550.3 1098.4 1550.5 1090.0 1554.0 1083.5C1555.7 1080.4 1558.2 1074.7 1560.2 1074.8C1561.5 1074.8 1562.8 1075.4 1564.0 1076.0C1566.5 1077.2 1568.2 1080.2 1570.2 1082.2C1571.9 1083.9 1573.2 1087.2 1575.2 1087.2C1577.8 1087.2 1579.4 1078.1 1581.5 1073.5C1584.0 1068.1 1586.2 1062.5 1589.0 1057.2C1592.0 1051.6 1595.0 1045.9 1599.0 1041.0C1602.0 1037.4 1605.1 1033.5 1609.0 1031.0C1613.3 1028.3 1618.0 1026.0 1624.0 1026.0C1631.0 1026.0 1635.7 1028.2 1641.5 1029.8C1648.3 1031.6 1654.7 1034.6 1661.5 1036.5C1669.7 1038.9 1678.2 1040.3 1686.5 1042.2" stroke-width="2.8" stroke-dasharray="14 12"/>
<path d="M1060.5 1080.2C1065.5 1079.7 1070.5 1079.2 1075.5 1078.5C1081.4 1077.6 1087.1 1076.0 1093.0 1075.2C1098.0 1074.7 1102.0 1074.2 1108.0 1074.2L1112.2 1074.5L1116.2 1075.6L1120.0 1077.6L1123.6 1080.5L1127.0 1084.3L1130.3 1089.0L1133.3 1094.5L1136.1 1100.7L1138.7 1107.5L1141.1 1114.9L1143.4 1122.7L1145.5 1130.9L1147.3 1139.3L1149.0 1148.0L1150.6 1156.7L1151.9 1165.5L1153.1 1174.2L1154.1 1182.7L1155.0 1191.0L1155.7 1198.9L1156.2 1206.3L1156.6 1213.2L1156.9 1219.3L1157.1 1224.3L1157.1 1227.5L1158.9 1227.5L1159.0 1225.2L1159.2 1220.2L1159.6 1213.0L1160.3 1203.9L1161.1 1193.3L1162.2 1181.2L1163.6 1167.8L1165.1 1153.4L1167.0 1138.0L1169.1 1121.8L1171.5 1105.0L1174.1 1087.9L1177.1 1070.5L1180.3 1053.1L1183.8 1035.9L1187.6 1019.1L1191.7 1003.0L1196.1 987.7L1200.8 973.6L1205.8 961.0L1211.1 950.0L1216.7 941.1L1222.7 934.4L1228.9 930.3L1235.5 929.0L1239.2 929.5L1242.7 931.3L1246.1 934.8L1249.2 940.0L1252.2 946.8L1255.0 955.1L1257.7 964.8L1260.1 975.8L1262.5 987.9L1264.6 1000.9L1266.6 1014.7L1268.4 1029.2L1270.0 1044.1L1271.5 1059.4L1272.9 1074.9L1274.0 1090.4L1275.1 1105.7L1276.0 1120.8L1276.7 1135.4L1277.4 1149.4L1277.8 1162.6L1278.2 1174.7L1278.4 1185.5L1278.6 1194.4L1278.6 1200.0L1280.4 1200.0L1280.4 1196.0L1280.5 1190.2L1280.6 1183.4L1280.7 1176.0L1280.9 1168.2L1281.2 1159.9L1281.5 1151.5L1281.8 1142.8L1282.3 1134.1L1282.7 1125.3L1283.3 1116.7L1283.9 1108.2L1284.6 1099.9L1285.3 1092.0L1286.1 1084.4L1287.0 1077.3L1287.9 1070.7L1288.9 1064.8L1290.0 1059.6L1291.2 1055.1L1292.4 1051.4L1293.7 1048.6L1295.1 1046.8L1296.5 1045.8L1298.0 1045.5L1299.6 1046.3L1301.2 1048.7L1302.7 1052.5L1304.1 1057.7L1305.4 1063.9L1306.7 1071.0L1307.8 1078.8L1308.9 1087.1L1309.9 1095.7L1310.9 1104.4L1311.8 1113.1L1312.6 1121.7L1313.3 1129.9L1314.0 1137.8L1314.6 1145.1L1315.1 1151.9L1315.5 1158.0L1315.9 1163.4L1316.3 1168.1L1316.5 1171.9L1316.8 1175.0L1316.9 1177.4L1317.0 1178.9L1317.1 1179.8L1317.1 1180.0L1318.9 1180.0C1318.9 1168.4 1319.9 1160.7 1320.5 1151.0C1321.3 1138.5 1322.0 1125.9 1323.5 1113.5C1324.7 1103.5 1325.2 1093.1 1328.0 1083.5C1329.4 1078.8 1329.8 1072.8 1333.0 1069.8C1334.7 1068.1 1337.5 1067.6 1339.2 1066.0C1342.1 1063.5 1343.8 1059.5 1345.5 1056.0C1349.7 1047.2 1348.9 1036.0 1350.5 1026.0C1352.2 1015.2 1353.5 1004.3 1355.5 993.5C1357.3 983.5 1358.0 972.8 1361.8 963.5C1363.8 958.5 1366.2 949.0 1369.2 949.0L1371.1 949.8L1372.9 952.3L1374.5 956.6L1376.1 962.7L1377.6 970.3L1379.0 979.4L1380.4 989.9L1381.6 1001.4L1382.8 1014.0L1383.8 1027.5L1384.8 1041.8L1385.7 1056.7L1386.6 1072.1L1387.3 1087.9L1388.0 1104.0L1388.6 1120.2L1389.1 1136.5L1389.5 1152.7L1389.9 1168.7L1390.2 1184.4L1390.5 1199.6L1390.6 1214.1L1390.8 1227.6L1390.8 1239.7L1390.8 1248.8L1392.7 1248.8L1392.7 1196.9L1392.7 1170.5L1392.8 1149.3L1393.0 1130.8L1393.1 1114.2L1393.4 1099.1L1393.7 1085.0L1394.0 1071.9L1394.5 1059.6L1394.9 1048.0L1395.5 1037.1L1396.1 1026.8L1396.7 1017.0L1397.4 1007.9L1398.2 999.3L1399.1 991.2L1400.0 983.7L1401.0 976.8L1402.0 970.5L1403.1 964.8L1404.3 959.9L1405.6 955.6L1406.9 952.3L1408.3 950.0L1409.8 949.0L1411.2 950.1L1412.6 952.7L1413.9 956.5L1415.1 961.3L1416.3 967.0L1417.4 973.5L1418.4 980.7L1419.4 988.7L1420.3 997.3L1421.1 1006.7L1421.9 1016.7L1422.6 1027.4L1423.2 1038.9L1423.8 1051.1L1424.4 1064.2L1424.8 1078.1L1425.2 1093.1L1425.6 1109.1L1425.9 1126.6L1426.1 1145.6L1426.3 1166.8L1426.4 1190.9L1426.5 1219.5L1426.6 1256.6L1426.6 1343.8L1428.4 1343.8L1428.4 1216.4L1428.5 1168.8L1428.7 1133.2L1429.0 1103.7L1429.3 1078.1L1429.8 1055.2L1430.3 1034.6L1431.0 1015.7L1431.7 998.2L1432.6 982.0L1433.6 966.9L1434.6 952.8L1435.8 939.7L1437.2 927.4L1438.6 916.0L1440.1 905.4L1441.8 895.6L1443.6 886.6L1445.5 878.5L1447.6 871.2L1449.8 864.8L1452.1 859.4L1454.5 855.2L1457.1 852.2L1459.8 851.0L1463.0 853.4L1466.2 858.9L1469.2 866.6L1472.0 876.0L1474.6 886.7L1477.1 898.2L1479.5 910.3L1481.7 922.8L1483.7 935.3L1485.6 947.7L1487.4 959.8L1489.0 971.5L1490.5 982.6L1491.8 993.1L1493.0 1002.7L1494.0 1011.5L1495.0 1019.4L1495.8 1026.3L1496.4 1032.2L1497.0 1037.1L1497.4 1041.0L1497.7 1043.9L1498.0 1045.9L1498.1 1047.0L1498.1 1047.2L1499.9 1047.2L1499.9 1047.1L1500.0 1046.7L1500.0 1045.9L1500.1 1044.9L1500.3 1043.5L1500.5 1041.9L1500.7 1040.1L1501.0 1038.0L1501.3 1035.7L1501.7 1033.1L1502.1 1030.4L1502.6 1027.6L1503.1 1024.6L1503.6 1021.6L1504.2 1018.5L1504.9 1015.4L1505.6 1012.4L1506.4 1009.4L1507.2 1006.7L1508.1 1004.1L1509.0 1001.9L1510.0 1000.0L1511.0 998.5L1512.1 997.6L1513.2 997.2L1515.6 998.9L1517.9 1002.7L1520.1 1008.1L1522.1 1015.0L1524.1 1023.1L1525.9 1032.2L1527.6 1042.4L1529.2 1053.4L1530.7 1065.2L1532.0 1077.9L1533.3 1091.3L1534.5 1105.4L1535.6 1120.2L1536.5 1135.7L1537.4 1151.9L1538.2 1168.8L1538.8 1186.5L1539.4 1204.9L1539.9 1224.2L1540.3 1244.5L1540.6 1266.0L1540.8 1288.9L1541.0 1313.9L1541.1 1342.4L1541.1 1383.5L1542.9 1383.5C1542.9 1290.5 1541.5 1228.3 1546.0 1151.0C1546.9 1136.0 1546.5 1120.7 1549.0 1106.0C1550.3 1098.4 1550.5 1090.0 1554.0 1083.5C1555.7 1080.4 1557.4 1076.4 1560.2 1074.8C1562.4 1073.5 1565.3 1073.0 1567.8 1073.0C1570.1 1073.0 1572.6 1075.2 1574.8 1074.8C1577.5 1074.2 1579.6 1069.1 1581.5 1066.0C1585.2 1060.1 1586.4 1052.6 1589.0 1046.0C1592.2 1037.6 1595.3 1029.2 1599.0 1021.0C1602.1 1014.2 1604.7 1007.0 1609.0 1001.0C1611.9 996.9 1615.0 992.4 1619.0 989.8C1623.2 986.9 1628.0 984.8 1634.0 984.8C1640.0 984.8 1644.1 986.2 1649.0 987.2C1654.9 988.6 1660.6 990.9 1666.5 992.2C1673.1 993.7 1679.8 994.4 1686.5 995.5" stroke-width="3.0"/>
</g>
<path d="M1606.5 1158.7H1674.6" fill="none" stroke="#231f20" stroke-width="3.4"/>
<text transform="translate(1689.30 1169.90)" font-style="italic">1</text>
<path d="M1606.5 1212.2H1674.6" fill="none" stroke="#231f20" stroke-width="3.4" stroke-dasharray="14 12.3"/>
<text transform="translate(1687.90 1223.00)" font-style="italic">2</text>
<path d="M1606.5 1264.3H1674.6" fill="none" stroke="#231f20" stroke-width="3.4" stroke-dasharray="13.6 3.2 6.2 3.2"/>
<text transform="translate(1687.90 1276.90)" font-style="italic">3</text>
<path d="M1606.5 1318.1H1674.6" fill="none" stroke="#231f20" stroke-width="3.3" stroke-dasharray="3.1 2.85"/>
<text transform="translate(1690.00 1330.00)" font-style="italic">4</text>
</svg>
</body></html>
